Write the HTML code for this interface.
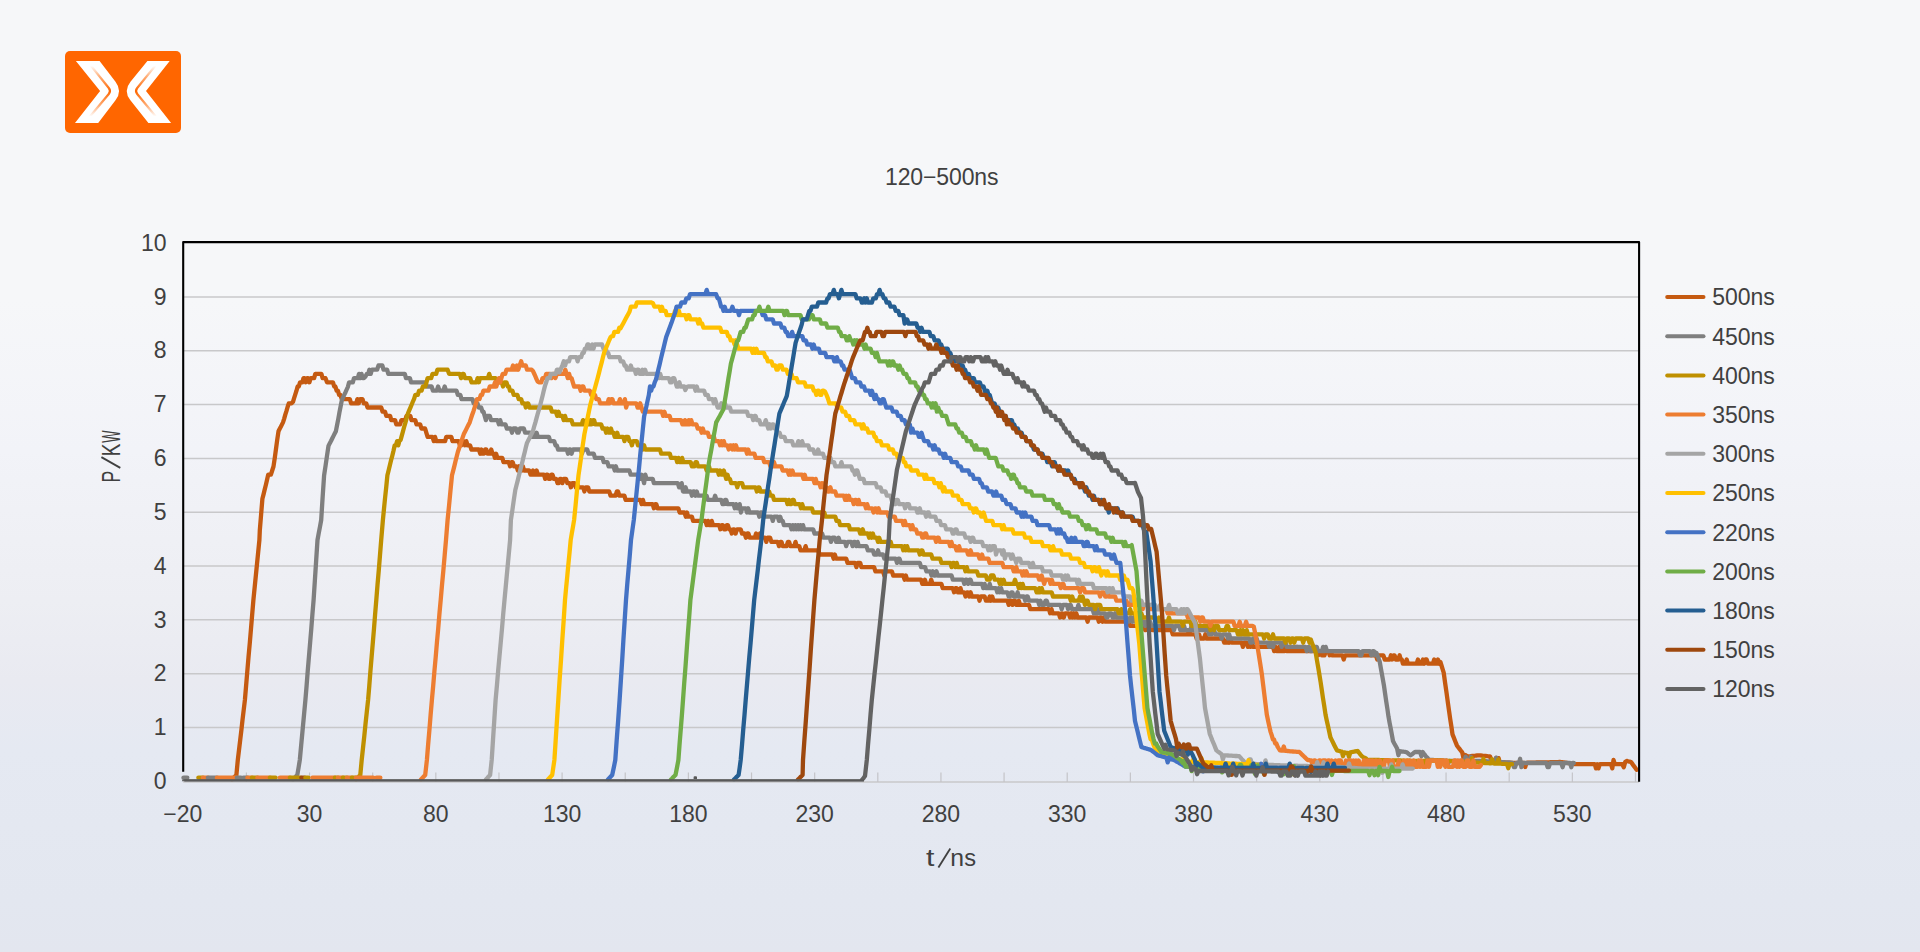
<!DOCTYPE html>
<html><head><meta charset="utf-8"><title>120-500ns</title>
<style>
html,body{margin:0;padding:0;}
body{width:1920px;height:952px;overflow:hidden;position:relative;font-family:"Liberation Sans",sans-serif;
background:linear-gradient(to bottom,#f6f7f9 0px,#f6f7f9 300px,#f2f3f8 450px,#edeef3 600px,#e9eaf1 680px,#e5e9f2 750px,#e3e7f0 900px,#e3e6ef 952px);}
</style></head><body>
<svg width="1920" height="952" viewBox="0 0 1920 952" style="position:absolute;left:0;top:0">
<defs>
<linearGradient id="lg1" x1="0" y1="0" x2="0" y2="1"><stop offset="0" stop-color="#ff6600" stop-opacity="0"/><stop offset="0.22" stop-color="#ff6600" stop-opacity="0.55"/><stop offset="0.5" stop-color="#ff6600" stop-opacity="1"/><stop offset="0.78" stop-color="#ff6600" stop-opacity="0.55"/><stop offset="1" stop-color="#ff6600" stop-opacity="0"/></linearGradient>
</defs>
<rect x="65" y="51" width="116" height="82" rx="5" ry="5" fill="#ff6600"/>
<path d="M75.9 61 L99.6 61 L115.5 81.7 Q122.6 91 115.5 100.3 L98.2 123.1 L75 123.1 L100.1 91 Z" fill="#fff"/>
<path d="M169.7 61 L147.4 61 L130.5 81.7 Q123.0 91 130.4 100.3 L148.4 123.1 L171.1 123.1 L146 91 Z" fill="#fff"/>
<path d="M91 65.8 L108.8 88 Q111.2 91 108.8 94 L90 116.5" fill="none" stroke="url(#lg1)" stroke-width="2.2" stroke-linejoin="round"/>
<path d="M155.2 65.8 L137.2 88 Q134.8 91 137.2 94 L155.7 116.5" fill="none" stroke="url(#lg1)" stroke-width="2.2" stroke-linejoin="round"/>
<line x1="183.2" y1="782.00" x2="1639.1" y2="782.00" stroke="#c8c8ca" stroke-width="1.5"/>
<line x1="183.2" y1="727.48" x2="1639.1" y2="727.48" stroke="#c8c8ca" stroke-width="1.5"/>
<line x1="183.2" y1="673.66" x2="1639.1" y2="673.66" stroke="#c8c8ca" stroke-width="1.5"/>
<line x1="183.2" y1="619.84" x2="1639.1" y2="619.84" stroke="#c8c8ca" stroke-width="1.5"/>
<line x1="183.2" y1="566.02" x2="1639.1" y2="566.02" stroke="#c8c8ca" stroke-width="1.5"/>
<line x1="183.2" y1="512.20" x2="1639.1" y2="512.20" stroke="#c8c8ca" stroke-width="1.5"/>
<line x1="183.2" y1="458.38" x2="1639.1" y2="458.38" stroke="#c8c8ca" stroke-width="1.5"/>
<line x1="183.2" y1="404.56" x2="1639.1" y2="404.56" stroke="#c8c8ca" stroke-width="1.5"/>
<line x1="183.2" y1="350.74" x2="1639.1" y2="350.74" stroke="#c8c8ca" stroke-width="1.5"/>
<line x1="183.2" y1="296.92" x2="1639.1" y2="296.92" stroke="#c8c8ca" stroke-width="1.5"/>
<line x1="246.40" y1="772.5" x2="246.40" y2="782.0" stroke="#c4c4c8" stroke-width="1.2"/>
<line x1="309.54" y1="772.5" x2="309.54" y2="782.0" stroke="#c4c4c8" stroke-width="1.2"/>
<line x1="372.68" y1="772.5" x2="372.68" y2="782.0" stroke="#c4c4c8" stroke-width="1.2"/>
<line x1="435.82" y1="772.5" x2="435.82" y2="782.0" stroke="#c4c4c8" stroke-width="1.2"/>
<line x1="498.96" y1="772.5" x2="498.96" y2="782.0" stroke="#c4c4c8" stroke-width="1.2"/>
<line x1="562.10" y1="772.5" x2="562.10" y2="782.0" stroke="#c4c4c8" stroke-width="1.2"/>
<line x1="625.24" y1="772.5" x2="625.24" y2="782.0" stroke="#c4c4c8" stroke-width="1.2"/>
<line x1="688.38" y1="772.5" x2="688.38" y2="782.0" stroke="#c4c4c8" stroke-width="1.2"/>
<line x1="751.52" y1="772.5" x2="751.52" y2="782.0" stroke="#c4c4c8" stroke-width="1.2"/>
<line x1="814.66" y1="772.5" x2="814.66" y2="782.0" stroke="#c4c4c8" stroke-width="1.2"/>
<line x1="877.80" y1="772.5" x2="877.80" y2="782.0" stroke="#c4c4c8" stroke-width="1.2"/>
<line x1="940.94" y1="772.5" x2="940.94" y2="782.0" stroke="#c4c4c8" stroke-width="1.2"/>
<line x1="1004.08" y1="772.5" x2="1004.08" y2="782.0" stroke="#c4c4c8" stroke-width="1.2"/>
<line x1="1067.22" y1="772.5" x2="1067.22" y2="782.0" stroke="#c4c4c8" stroke-width="1.2"/>
<line x1="1130.36" y1="772.5" x2="1130.36" y2="782.0" stroke="#c4c4c8" stroke-width="1.2"/>
<line x1="1193.50" y1="772.5" x2="1193.50" y2="782.0" stroke="#c4c4c8" stroke-width="1.2"/>
<line x1="1256.64" y1="772.5" x2="1256.64" y2="782.0" stroke="#c4c4c8" stroke-width="1.2"/>
<line x1="1319.78" y1="772.5" x2="1319.78" y2="782.0" stroke="#c4c4c8" stroke-width="1.2"/>
<line x1="1382.92" y1="772.5" x2="1382.92" y2="782.0" stroke="#c4c4c8" stroke-width="1.2"/>
<line x1="1446.06" y1="772.5" x2="1446.06" y2="782.0" stroke="#c4c4c8" stroke-width="1.2"/>
<line x1="1509.20" y1="772.5" x2="1509.20" y2="782.0" stroke="#c4c4c8" stroke-width="1.2"/>
<line x1="1572.34" y1="772.5" x2="1572.34" y2="782.0" stroke="#c4c4c8" stroke-width="1.2"/>
<line x1="1635.48" y1="772.5" x2="1635.48" y2="782.0" stroke="#c4c4c8" stroke-width="1.2"/>
<clipPath id="pc"><rect x="170" y="230" width="1480" height="551.3"/></clipPath>
<g fill="none" stroke-width="4.3" stroke-linejoin="round" stroke-linecap="round" clip-path="url(#pc)">
<path d="M232.0 779.5 L233.5 778.0 L234.9 776.5 L236.4 775.0 L237.8 760.0 L239.0 750.0 L240.2 740.0 L241.4 730.0 L242.5 720.0 L243.7 710.0 L244.9 700.0 L246.1 685.7 L247.3 671.4 L248.5 657.1 L249.8 642.9 L251.0 628.6 L252.2 614.3 L253.4 600.0 L254.6 588.0 L255.8 576.0 L257.0 564.0 L258.2 552.0 L259.4 540.0 L259.8 530.5 L261.1 514.6 L262.4 498.8 L263.6 494.1 L264.7 489.4 L265.9 484.7 L267.0 480.0 L268.2 474.7 L270.9 474.7 L272.2 470.5 L273.5 466.5 L274.8 457.7 L276.0 448.9 L277.2 440.0 L278.5 431.2 L279.6 429.0 L280.8 426.8 L281.9 424.6 L283.0 422.4 L284.2 418.6 L285.3 414.7 L286.5 410.9 L287.6 407.0 L288.8 403.3 L291.6 403.3 L293.0 401.8 L294.1 398.1 L295.3 394.4 L296.5 390.7 L297.6 386.5 L298.8 386.5 L300.0 382.3 L302.3 382.3 L303.5 378.1 L304.7 378.1 L305.9 382.3 L307.0 378.1 L308.2 378.1 L309.4 382.3 L310.6 378.1 L314.1 378.1 L315.3 373.9 L321.4 373.9 L322.6 378.1 L325.5 378.1 L327.0 382.3 L333.0 382.3 L334.2 386.5 L335.4 386.5 L336.6 390.7 L337.9 390.7 L339.1 394.9 L340.3 394.9 L341.8 399.1 L349.8 399.1 L351.1 403.3 L356.2 403.3 L357.4 399.1 L358.7 403.3 L360.0 399.1 L362.5 399.1 L363.8 403.3 L366.3 403.3 L367.5 407.5 L381.3 407.5 L382.5 411.7 L385.0 411.7 L386.3 415.9 L390.1 415.9 L391.3 420.1 L395.1 420.1 L396.3 424.3 L400.1 424.3 L401.4 420.1 L405.2 420.1 L406.5 415.9 L410.3 415.9 L411.5 420.1 L415.3 420.1 L416.5 424.3 L420.2 424.3 L421.4 428.5 L425.1 428.5 L426.3 432.7 L427.6 436.9 L432.5 436.9 L433.8 441.1 L435.0 436.9 L436.3 441.1 L445.1 441.1 L446.3 436.9 L451.3 436.9 L452.5 441.1 L458.7 441.1 L459.9 445.3 L461.2 445.3 L462.4 441.1 L463.7 441.1 L465.0 445.3 L466.3 441.1 L467.6 445.3 L470.1 445.3 L471.4 449.5 L478.9 449.5 L480.2 453.7 L481.4 449.5 L482.6 453.7 L483.9 453.7 L485.1 449.5 L486.3 449.5 L487.6 453.7 L490.0 453.7 L491.2 449.5 L492.5 453.7 L493.7 453.7 L494.9 457.9 L496.1 453.7 L497.4 457.9 L502.3 457.9 L503.5 462.1 L508.7 462.1 L510.1 466.3 L511.4 462.1 L512.7 462.1 L514.0 466.3 L516.6 466.3 L517.8 470.5 L519.1 466.3 L520.4 470.5 L521.6 470.5 L522.9 466.3 L524.1 470.5 L529.2 470.5 L530.5 474.7 L531.7 474.7 L533.0 470.5 L534.2 474.7 L535.4 474.7 L536.6 470.5 L537.9 474.7 L544.0 474.7 L545.2 478.9 L546.4 474.7 L547.6 474.7 L548.8 478.9 L550.1 478.9 L551.3 474.7 L552.5 474.7 L553.8 478.9 L556.2 478.9 L557.5 483.1 L558.7 483.1 L559.9 478.9 L561.2 478.9 L562.4 483.1 L563.6 478.9 L566.0 478.9 L567.3 483.1 L569.7 483.1 L570.9 487.3 L572.1 483.1 L574.6 483.1 L575.8 487.3 L577.0 483.1 L578.2 487.3 L583.2 487.3 L584.4 491.5 L585.6 487.3 L588.1 487.3 L589.3 491.5 L609.3 491.5 L610.5 495.7 L615.6 495.7 L616.8 491.5 L618.1 491.5 L619.3 495.7 L624.4 495.7 L625.6 499.9 L640.4 499.9 L641.6 504.1 L642.9 499.9 L644.1 504.1 L652.7 504.1 L653.9 508.3 L655.1 504.1 L656.3 504.1 L657.6 508.3 L678.4 508.3 L679.6 512.5 L684.5 512.5 L685.8 516.7 L687.0 512.5 L688.2 516.7 L691.9 516.7 L693.1 520.9 L705.5 520.9 L706.7 525.1 L708.0 520.9 L709.2 525.1 L710.5 525.1 L711.7 520.9 L713.0 525.1 L719.2 525.1 L720.4 529.3 L721.7 525.1 L722.9 525.1 L724.2 529.3 L725.4 529.3 L726.7 525.1 L727.9 525.1 L729.2 529.3 L730.5 529.3 L731.8 533.5 L733.0 529.3 L734.3 529.3 L735.6 533.5 L736.9 529.3 L740.7 529.3 L742.0 533.5 L744.6 533.5 L745.9 537.7 L747.2 533.5 L748.4 533.5 L749.7 537.7 L754.8 537.7 L756.1 533.5 L757.4 537.7 L758.7 537.7 L759.9 533.5 L761.2 537.7 L765.0 537.7 L766.3 541.9 L767.5 537.7 L770.1 537.7 L771.4 541.9 L777.7 541.9 L779.0 546.1 L780.3 541.9 L781.5 541.9 L782.8 546.1 L786.6 546.1 L787.9 541.9 L789.1 541.9 L790.4 546.1 L794.2 546.1 L795.5 541.9 L796.7 546.1 L799.3 546.1 L800.5 550.3 L804.3 550.3 L805.6 546.1 L806.9 550.3 L818.3 550.3 L819.6 554.5 L832.3 554.5 L833.6 558.7 L834.8 554.5 L836.1 558.7 L846.2 558.7 L847.5 562.9 L855.1 562.9 L856.4 567.1 L857.6 562.9 L860.2 562.9 L861.4 567.1 L874.1 567.1 L875.4 571.3 L883.0 571.3 L884.3 575.5 L885.6 571.3 L891.9 571.3 L893.2 575.5 L903.3 575.5 L904.6 579.7 L905.9 575.5 L907.1 579.7 L921.1 579.7 L922.3 583.9 L923.6 583.9 L924.9 579.7 L926.2 583.9 L930.0 583.9 L931.2 579.7 L932.5 583.9 L941.4 583.9 L942.7 588.1 L952.8 588.1 L954.1 592.3 L955.4 588.1 L956.7 588.1 L957.9 592.3 L959.2 592.3 L960.5 588.1 L961.7 592.3 L964.3 592.3 L965.5 596.5 L966.8 592.3 L968.1 592.3 L969.4 596.5 L970.6 592.3 L971.9 596.5 L978.3 596.5 L979.5 600.7 L980.8 596.5 L984.6 596.5 L985.9 600.7 L988.4 600.7 L989.7 596.5 L990.9 600.7 L992.2 596.5 L993.5 600.7 L1007.4 600.7 L1008.7 604.9 L1009.9 600.7 L1011.2 600.7 L1012.5 604.9 L1013.7 600.7 L1015.0 600.7 L1016.3 604.9 L1017.6 604.9 L1018.8 600.7 L1020.1 604.9 L1029.0 604.9 L1030.3 609.1 L1049.0 609.1 L1050.2 613.3 L1051.5 609.1 L1052.7 613.3 L1058.8 613.3 L1060.0 617.5 L1061.3 613.3 L1062.5 613.3 L1063.8 617.5 L1065.0 613.3 L1068.8 613.3 L1070.0 617.5 L1071.3 613.3 L1072.5 617.5 L1073.8 613.3 L1075.0 617.5 L1076.3 613.3 L1077.6 617.5 L1086.3 617.5 L1087.6 621.7 L1088.8 617.5 L1097.6 617.5 L1098.8 621.7 L1100.1 617.5 L1101.3 617.5 L1102.6 621.7 L1103.8 617.5 L1105.1 621.7 L1128.9 621.7 L1130.1 625.9 L1143.9 625.9 L1145.2 630.1 L1146.4 625.9 L1147.7 630.1 L1148.9 625.9 L1150.2 630.1 L1151.4 625.9 L1152.7 630.1 L1171.5 630.1 L1172.7 634.3 L1187.8 634.3 L1189.0 630.1 L1190.3 634.3 L1195.3 634.3 L1196.6 638.5 L1197.8 634.3 L1199.1 634.3 L1200.3 638.5 L1204.1 638.5 L1205.3 634.3 L1206.6 638.5 L1222.9 638.5 L1224.2 642.7 L1226.7 642.7 L1227.9 638.5 L1229.2 642.7 L1230.4 638.5 L1231.7 642.7 L1241.7 642.7 L1242.9 646.9 L1244.2 642.7 L1246.7 642.7 L1247.9 646.9 L1249.2 642.7 L1250.4 646.9 L1251.7 642.7 L1252.9 646.9 L1273.0 646.9 L1274.2 651.1 L1275.5 646.9 L1276.7 651.1 L1278.0 651.1 L1279.2 646.9 L1280.5 651.1 L1281.7 651.1 L1283.0 646.9 L1284.2 651.1 L1285.5 646.9 L1286.7 651.1 L1295.5 651.1 L1296.8 646.9 L1298.0 651.1 L1316.8 651.1 L1318.1 655.3 L1319.3 651.1 L1320.6 651.1 L1321.9 655.3 L1324.5 655.3 L1325.8 651.1 L1328.4 651.1 L1329.7 655.3 L1330.9 651.1 L1332.2 655.3 L1342.5 655.3 L1343.7 659.5 L1345.0 655.3 L1376.0 655.3 L1377.2 659.5 L1378.5 655.3 L1383.4 655.3 L1384.7 659.5 L1389.7 659.5 L1390.9 655.3 L1392.1 659.5 L1393.4 655.3 L1394.6 655.3 L1395.9 659.5 L1398.4 659.5 L1399.6 655.3 L1400.7 659.5 L1401.8 659.5 L1402.9 663.7 L1405.4 663.7 L1406.7 659.5 L1407.9 663.7 L1416.7 663.7 L1417.9 659.5 L1419.2 663.7 L1421.7 663.7 L1422.9 659.5 L1424.2 663.7 L1425.4 659.5 L1426.7 659.5 L1427.9 663.7 L1432.9 663.7 L1434.2 659.5 L1435.4 663.7 L1436.7 663.7 L1437.9 659.5 L1439.2 663.7 L1440.4 662.0 L1441.5 665.5 L1442.6 669.1 L1443.7 672.6 L1445.1 682.9 L1446.6 693.2 L1448.0 703.5 L1449.1 711.2 L1450.2 719.0 L1451.4 726.7 L1452.5 734.4 L1454.0 738.1 L1455.4 741.7 L1456.9 745.4 L1458.2 747.2 L1459.5 748.9 L1460.9 750.7 L1462.2 752.4 L1463.5 758.4 L1465.0 754.9 L1466.4 755.7 L1467.9 756.4 L1469.1 756.3 L1470.3 756.2 L1471.6 756.0 L1472.8 755.9 L1474.0 755.8 L1475.2 755.7 L1476.5 755.5 L1477.7 755.4 L1478.9 755.3 L1480.1 755.4 L1481.4 755.5 L1482.6 755.7 L1483.8 755.8 L1485.1 755.9 L1486.3 756.0 L1487.5 756.2 L1488.8 756.3 L1490.0 756.4 L1491.1 759.2 L1492.2 762.0 L1493.5 762.1 L1494.7 762.1 L1496.0 758.0 L1497.3 762.2 L1498.6 758.1 L1499.8 762.3 L1501.1 762.4 L1502.4 762.4 L1503.7 762.5 L1504.9 762.5 L1506.2 762.6 L1507.5 762.6 L1508.8 762.7 L1510.0 762.7 L1511.3 762.8 L1512.6 762.8 L1513.9 762.9 L1515.1 762.9 L1516.4 763.0 L1517.7 763.0 L1518.9 762.9 L1520.2 762.9 L1521.5 762.9 L1522.7 762.9 L1524.0 762.8 L1525.2 767.0 L1526.5 762.8 L1527.8 762.7 L1529.0 762.7 L1530.3 762.7 L1531.6 762.7 L1532.8 762.6 L1534.1 762.6 L1535.3 762.6 L1536.6 762.5 L1537.9 762.5 L1539.1 762.5 L1540.4 762.5 L1541.7 762.4 L1542.9 762.4 L1544.2 762.4 L1545.4 762.3 L1546.7 762.3 L1548.0 762.3 L1549.2 762.3 L1550.5 762.2 L1551.8 762.2 L1553.0 762.2 L1554.3 762.1 L1555.5 762.1 L1556.8 762.1 L1558.1 762.1 L1559.3 762.0 L1560.6 762.0 L1561.9 762.2 L1563.2 762.4 L1564.4 762.5 L1565.7 762.7 L1567.0 762.9 L1568.3 763.1 L1569.6 763.3 L1570.9 763.5 L1572.2 763.7 L1573.4 763.8 L1574.7 764.0 L1576.0 764.2 L1594.8 764.2 L1596.0 768.4 L1597.3 764.2 L1598.5 768.4 L1599.8 764.2 L1611.0 764.2 L1612.3 768.4 L1613.5 760.0 L1614.8 764.2 L1622.3 764.2 L1623.8 767.3 L1625.2 762.0 L1626.7 760.9 L1628.1 761.3 L1629.6 761.6 L1631.0 762.0 L1632.4 763.9 L1633.8 765.9 L1635.2 767.8 L1636.6 769.7" stroke="#C55A11"/>
<path d="M293.0 779.5 L294.4 778.0 L295.9 776.5 L297.3 775.0 L298.6 767.5 L299.8 760.0 L301.2 745.0 L302.6 730.0 L304.0 715.0 L305.4 700.0 L306.6 685.7 L307.7 671.4 L308.9 657.1 L310.1 642.9 L311.3 628.6 L312.4 614.3 L313.6 600.0 L314.9 580.0 L316.2 560.0 L317.5 540.0 L318.7 533.3 L320.0 526.7 L321.2 520.0 L322.6 497.6 L324.1 475.3 L325.6 465.5 L327.0 455.7 L328.5 445.9 L329.7 443.4 L331.0 441.0 L332.2 438.5 L333.4 436.1 L334.7 433.6 L335.9 431.2 L337.1 425.0 L338.3 418.8 L339.4 412.7 L340.6 406.5 L341.8 400.3 L343.0 397.6 L344.2 394.9 L345.5 392.2 L346.7 389.5 L347.9 386.8 L349.1 382.3 L352.8 382.3 L354.0 378.1 L357.8 378.1 L359.0 373.9 L360.3 378.1 L361.5 373.9 L362.8 378.1 L364.0 378.1 L365.3 376.8 L366.8 373.9 L368.2 373.9 L369.4 369.7 L370.7 373.9 L371.9 369.7 L377.1 369.7 L378.5 365.5 L382.4 365.5 L383.5 369.7 L387.1 369.7 L388.3 373.9 L404.8 373.9 L406.0 378.1 L409.9 378.1 L411.1 382.3 L425.4 382.3 L426.6 386.5 L431.6 386.5 L432.9 390.7 L436.8 390.7 L438.1 386.5 L439.5 390.7 L443.4 390.7 L444.7 386.5 L446.0 390.7 L456.5 390.7 L457.8 394.9 L460.3 394.9 L461.5 399.1 L472.5 399.1 L473.7 403.3 L477.5 403.3 L478.7 407.5 L481.2 407.5 L482.4 411.7 L483.5 411.7 L484.7 415.9 L485.9 420.1 L487.2 415.9 L489.8 415.9 L491.1 420.1 L497.6 420.1 L498.9 424.3 L500.2 420.1 L501.5 424.3 L505.5 424.3 L506.8 428.5 L510.7 428.5 L512.0 432.7 L513.3 428.5 L516.0 428.5 L517.3 432.7 L518.6 432.7 L519.9 428.5 L523.8 428.5 L525.1 432.7 L530.3 432.7 L531.6 436.9 L532.9 436.9 L534.1 432.7 L535.4 436.9 L536.6 432.7 L537.8 436.9 L548.9 436.9 L550.2 441.1 L554.2 441.1 L555.5 445.3 L556.8 445.3 L558.1 449.5 L566.8 449.5 L568.0 453.7 L569.2 449.5 L570.4 449.5 L571.6 453.7 L572.9 449.5 L580.7 449.5 L582.0 453.7 L583.3 449.5 L587.2 449.5 L588.5 453.7 L593.7 453.7 L595.0 457.9 L602.5 457.9 L603.7 462.1 L607.4 462.1 L608.6 466.3 L613.5 466.3 L614.7 470.5 L615.9 466.3 L617.2 470.5 L629.4 470.5 L630.6 474.7 L639.2 474.7 L640.4 478.9 L641.6 474.7 L642.9 478.9 L644.1 483.1 L645.3 474.7 L646.5 478.9 L652.7 478.9 L653.9 483.1 L677.8 483.1 L679.1 487.3 L680.4 487.3 L681.7 483.1 L683.0 491.5 L684.3 491.5 L685.6 487.3 L686.9 491.5 L690.7 491.5 L691.9 495.7 L693.1 491.5 L694.3 491.5 L695.5 495.7 L696.8 491.5 L698.0 495.7 L706.6 495.7 L707.8 499.9 L713.9 499.9 L715.1 495.7 L716.4 499.9 L721.3 499.9 L722.5 504.1 L723.8 504.1 L725.0 499.9 L726.2 499.9 L727.5 504.1 L733.6 504.1 L734.8 508.3 L736.0 504.1 L737.3 508.3 L738.5 508.3 L739.7 504.1 L740.9 512.5 L742.1 508.3 L745.8 508.3 L747.0 512.5 L748.2 508.3 L749.5 512.5 L758.1 512.5 L759.3 516.7 L760.6 512.5 L761.8 512.5 L763.0 516.7 L771.6 516.7 L772.8 520.9 L774.0 516.7 L777.7 516.7 L779.0 520.9 L780.2 516.7 L781.5 520.9 L782.7 520.9 L783.9 525.1 L790.2 525.1 L791.5 529.3 L792.7 525.1 L794.0 529.3 L795.3 525.1 L796.6 529.3 L797.9 525.1 L799.1 529.3 L800.4 525.1 L801.7 529.3 L803.0 525.1 L804.2 529.3 L813.2 529.3 L814.5 533.5 L822.1 533.5 L823.4 537.7 L829.8 537.7 L831.0 541.9 L832.3 537.7 L834.8 537.7 L836.1 541.9 L837.4 541.9 L838.6 537.7 L839.9 541.9 L845.0 541.9 L846.2 546.1 L847.5 541.9 L851.3 541.9 L852.6 546.1 L853.8 541.9 L855.1 541.9 L856.4 546.1 L857.6 541.9 L858.9 546.1 L866.5 546.1 L867.8 550.3 L872.9 550.3 L874.1 554.5 L876.7 554.5 L878.0 550.3 L879.2 554.5 L883.0 554.5 L884.3 558.7 L895.7 558.7 L897.0 562.9 L898.3 558.7 L899.5 558.7 L900.8 562.9 L919.8 562.9 L921.1 567.1 L925.1 567.1 L926.4 571.3 L930.3 571.3 L931.5 575.5 L932.8 571.3 L934.0 575.5 L935.3 575.5 L936.5 571.3 L937.8 575.5 L951.6 575.5 L952.8 579.7 L963.0 579.7 L964.3 583.9 L965.5 579.7 L966.8 579.7 L968.1 583.9 L969.4 579.7 L970.6 579.7 L971.9 583.9 L982.1 583.9 L983.3 588.1 L984.6 583.9 L985.9 588.1 L988.4 588.1 L989.7 583.9 L990.9 588.1 L996.0 588.1 L997.3 592.3 L998.5 588.1 L999.8 592.3 L1001.1 588.1 L1002.3 592.3 L1007.4 592.3 L1008.7 596.5 L1009.9 596.5 L1011.2 592.3 L1012.5 592.3 L1013.7 596.5 L1016.3 596.5 L1017.6 592.3 L1018.8 596.5 L1023.9 596.5 L1025.2 600.7 L1026.5 596.5 L1027.7 596.5 L1029.0 600.7 L1037.9 600.7 L1039.2 604.9 L1040.4 600.7 L1041.7 604.9 L1044.2 604.9 L1045.5 600.7 L1046.7 600.7 L1048.0 604.9 L1060.5 604.9 L1061.7 609.1 L1063.0 604.9 L1066.9 604.9 L1068.1 609.1 L1069.4 604.9 L1070.7 604.9 L1072.0 609.1 L1077.2 609.1 L1078.4 604.9 L1079.7 609.1 L1092.6 609.1 L1093.8 613.3 L1095.1 609.1 L1096.3 613.3 L1097.6 609.1 L1098.8 613.3 L1105.1 613.3 L1106.3 617.5 L1107.6 617.5 L1108.8 613.3 L1111.3 613.3 L1112.6 617.5 L1113.8 617.5 L1115.1 613.3 L1116.3 617.5 L1126.4 617.5 L1127.6 621.7 L1128.9 621.7 L1130.1 617.5 L1131.4 617.5 L1132.6 621.7 L1133.9 617.5 L1135.1 621.7 L1138.9 621.7 L1140.1 617.5 L1141.4 621.7 L1143.9 621.7 L1145.2 625.9 L1146.4 621.7 L1147.7 621.7 L1148.9 625.9 L1150.2 621.7 L1151.4 625.9 L1172.7 625.9 L1174.0 630.1 L1175.3 625.9 L1179.0 625.9 L1180.3 630.1 L1182.8 630.1 L1184.0 625.9 L1185.3 630.1 L1190.3 630.1 L1191.6 625.9 L1192.8 630.1 L1194.1 630.1 L1195.3 625.9 L1196.6 630.1 L1207.9 630.1 L1209.1 634.3 L1210.4 630.1 L1211.6 634.3 L1212.9 630.1 L1214.1 630.1 L1215.4 634.3 L1220.4 634.3 L1221.6 638.5 L1222.9 634.3 L1226.7 634.3 L1227.9 638.5 L1229.2 634.3 L1230.4 638.5 L1249.2 638.5 L1250.4 642.7 L1251.7 642.7 L1252.9 638.5 L1254.2 638.5 L1255.4 642.7 L1256.7 638.5 L1257.9 642.7 L1267.9 642.7 L1269.2 646.9 L1270.4 642.7 L1271.7 642.7 L1273.0 646.9 L1274.2 642.7 L1280.5 642.7 L1281.7 646.9 L1283.0 642.7 L1285.5 642.7 L1286.7 646.9 L1305.6 646.9 L1306.8 651.1 L1308.1 646.9 L1309.3 646.9 L1310.6 651.1 L1311.8 651.1 L1313.1 646.9 L1316.8 646.9 L1318.1 651.1 L1321.9 651.1 L1323.1 646.9 L1324.4 651.1 L1325.7 646.9 L1327.0 651.1 L1358.7 651.1 L1360.0 655.3 L1361.3 655.3 L1362.5 651.1 L1370.1 651.1 L1371.4 655.3 L1372.6 651.1 L1373.9 651.1 L1375.1 655.3 L1376.4 652.8 L1377.5 655.7 L1378.6 658.7 L1379.7 661.6 L1381.1 669.7 L1382.6 677.8 L1384.0 685.9 L1385.1 693.6 L1386.2 701.3 L1387.4 709.0 L1388.5 716.7 L1389.6 722.8 L1390.8 728.9 L1391.9 734.9 L1393.0 741.0 L1394.3 743.5 L1395.7 746.0 L1397.1 748.5 L1398.4 755.2 L1399.7 751.2 L1401.0 751.3 L1402.3 751.5 L1403.6 751.7 L1404.9 751.8 L1406.2 752.0 L1407.7 753.1 L1409.1 754.2 L1410.6 755.3 L1412.1 754.2 L1413.5 753.1 L1415.0 752.0 L1420.1 752.0 L1421.4 756.2 L1422.7 752.0 L1423.8 753.5 L1424.9 754.9 L1426.0 756.4 L1427.1 757.5 L1428.2 758.7 L1429.3 759.8 L1430.5 759.9 L1431.8 759.9 L1433.0 760.0 L1434.2 760.1 L1435.5 760.1 L1436.7 760.2 L1437.9 760.3 L1439.2 760.3 L1440.4 760.4 L1441.7 760.4 L1442.9 760.5 L1444.1 760.6 L1445.4 760.6 L1446.6 760.7 L1447.8 765.0 L1449.1 760.8 L1450.3 760.9 L1464.4 760.9 L1465.7 756.7 L1466.9 760.9 L1469.5 760.9 L1470.8 756.7 L1472.0 760.9 L1481.0 760.9 L1482.3 761.0 L1483.5 761.0 L1484.8 761.1 L1486.1 761.2 L1487.3 761.3 L1488.6 761.4 L1489.8 761.4 L1491.1 761.5 L1492.4 761.6 L1493.6 761.6 L1494.9 761.7 L1496.2 757.6 L1497.4 761.9 L1498.7 762.0 L1500.0 762.0 L1501.2 762.1 L1502.5 762.2 L1503.8 762.2 L1505.0 762.3 L1506.3 762.4 L1507.6 762.5 L1508.8 762.5 L1510.1 762.6 L1511.3 762.7 L1512.6 762.8 L1513.9 767.1 L1515.1 767.1 L1516.4 763.0 L1518.9 763.0 L1520.1 758.8 L1521.4 767.2 L1522.6 763.0 L1546.3 763.0 L1547.6 767.2 L1548.8 767.2 L1550.1 763.0 L1561.3 763.0 L1562.6 767.2 L1563.8 763.0 L1570.1 763.0 L1571.3 767.2 L1572.6 763.0 L1573.8 763.0" stroke="#7F7F7F"/>
<path d="M356.0 779.5 L357.4 778.0 L358.9 776.5 L360.3 775.0 L361.7 760.0 L363.0 748.0 L364.3 736.0 L365.5 724.0 L366.8 712.0 L368.1 700.0 L369.3 685.7 L370.4 671.4 L371.6 657.1 L372.8 642.9 L374.0 628.6 L375.1 614.3 L376.3 600.0 L377.5 585.0 L378.8 570.0 L380.0 555.0 L381.2 540.0 L382.9 520.0 L384.0 508.8 L385.1 497.6 L386.3 486.5 L387.4 475.3 L388.6 470.4 L389.8 465.5 L391.0 460.6 L392.3 455.7 L393.5 450.8 L394.7 445.3 L395.9 445.3 L397.1 441.1 L398.2 445.3 L399.4 441.1 L400.6 440.0 L401.8 435.6 L403.0 431.2 L404.2 426.8 L405.5 422.3 L406.7 417.9 L407.9 413.5 L409.1 410.6 L410.4 407.6 L411.6 404.7 L412.8 401.8 L414.1 398.8 L415.3 394.9 L417.8 394.9 L419.1 390.7 L421.6 390.7 L422.8 386.5 L425.3 386.5 L426.5 382.3 L427.6 378.1 L431.2 378.1 L432.5 373.9 L436.2 373.9 L437.4 369.7 L447.6 369.7 L449.1 373.9 L459.8 373.9 L461.1 378.1 L462.4 373.9 L463.7 373.9 L465.0 378.1 L470.2 378.1 L471.5 382.3 L476.5 382.3 L477.6 378.1 L478.8 382.3 L480.0 378.1 L487.9 378.1 L489.2 373.9 L490.5 378.1 L495.6 378.1 L496.8 382.3 L501.8 382.3 L503.0 386.5 L504.1 382.3 L506.5 382.3 L507.7 386.5 L508.9 386.5 L510.0 390.7 L512.4 390.7 L513.7 394.9 L517.4 394.9 L518.7 399.1 L521.2 399.1 L522.4 403.3 L524.7 403.3 L525.8 407.5 L527.0 403.3 L528.2 403.3 L529.5 407.5 L550.6 407.5 L551.9 411.7 L555.8 411.7 L557.2 415.9 L558.5 411.7 L559.8 415.9 L562.4 415.9 L563.7 420.1 L565.0 415.9 L566.3 420.1 L571.5 420.1 L572.8 424.3 L581.7 424.3 L583.0 420.1 L584.2 424.3 L585.5 424.3 L586.7 420.1 L588.0 424.3 L589.3 424.3 L590.5 420.1 L591.8 424.3 L593.0 420.1 L594.1 420.1 L595.3 424.3 L601.2 424.3 L602.5 428.5 L604.9 428.5 L606.1 432.7 L607.4 428.5 L608.6 432.7 L609.8 432.7 L611.0 428.5 L612.2 432.7 L613.5 432.7 L614.7 436.9 L615.9 436.9 L617.2 432.7 L618.4 436.9 L623.3 436.9 L624.5 441.1 L625.7 436.9 L628.2 436.9 L629.4 441.1 L630.6 441.1 L631.9 445.3 L633.1 441.1 L636.8 441.1 L638.0 445.3 L641.6 445.3 L642.9 449.5 L644.1 445.3 L645.3 449.5 L660.0 449.5 L661.2 453.7 L669.8 453.7 L671.0 457.9 L676.0 457.9 L677.2 462.1 L678.4 457.9 L679.6 462.1 L680.9 462.1 L682.1 457.9 L683.3 462.1 L690.7 462.1 L691.9 466.3 L694.3 466.3 L695.5 462.1 L696.8 462.1 L698.0 466.3 L705.4 466.3 L706.6 470.5 L707.8 466.3 L709.0 466.3 L710.2 470.5 L717.6 470.5 L718.8 474.7 L720.1 470.5 L721.3 474.7 L722.5 474.7 L723.8 470.5 L725.0 474.7 L726.2 478.9 L727.5 474.7 L728.7 478.9 L729.9 478.9 L731.2 483.1 L736.0 483.1 L737.3 487.3 L738.5 483.1 L742.1 483.1 L743.4 487.3 L755.6 487.3 L756.9 491.5 L758.1 487.3 L759.3 487.3 L760.6 491.5 L766.7 491.5 L767.9 495.7 L769.1 491.5 L770.4 495.7 L772.8 495.7 L774.0 499.9 L786.3 499.9 L787.5 504.1 L788.8 499.9 L790.0 504.1 L791.2 504.1 L792.4 499.9 L793.7 499.9 L794.9 504.1 L799.8 504.1 L801.0 508.3 L802.2 504.1 L803.5 508.3 L812.0 508.3 L813.2 512.5 L821.8 512.5 L823.0 516.7 L824.3 512.5 L825.5 516.7 L835.3 516.7 L836.5 520.9 L838.9 520.9 L840.1 525.1 L848.8 525.1 L850.0 529.3 L858.9 529.3 L860.2 533.5 L861.4 533.5 L862.7 529.3 L864.0 533.5 L867.8 533.5 L869.1 537.7 L870.3 533.5 L871.6 537.7 L872.9 533.5 L874.1 537.7 L876.7 537.7 L878.0 541.9 L879.2 537.7 L880.5 541.9 L888.1 541.9 L889.4 546.1 L890.7 541.9 L891.9 546.1 L902.1 546.1 L903.3 550.3 L904.6 546.1 L905.9 550.3 L907.1 546.1 L908.4 550.3 L918.5 550.3 L919.8 554.5 L921.1 550.3 L922.3 550.3 L923.6 554.5 L931.2 554.5 L932.5 558.7 L940.1 558.7 L941.4 562.9 L950.3 562.9 L951.6 567.1 L952.8 562.9 L954.1 562.9 L955.4 567.1 L956.7 562.9 L957.9 567.1 L964.3 567.1 L965.5 571.3 L966.8 567.1 L968.1 571.3 L977.0 571.3 L978.3 575.5 L985.9 575.5 L987.1 579.7 L989.7 579.7 L990.9 575.5 L993.5 575.5 L994.7 579.7 L998.5 579.7 L999.8 583.9 L1001.1 579.7 L1002.3 583.9 L1003.6 579.7 L1004.9 583.9 L1013.7 583.9 L1015.0 579.7 L1016.3 583.9 L1017.6 583.9 L1018.8 588.1 L1020.1 583.9 L1021.4 588.1 L1022.6 583.9 L1023.9 588.1 L1035.3 588.1 L1036.6 592.3 L1037.9 592.3 L1039.2 588.1 L1040.4 592.3 L1041.7 588.1 L1043.0 592.3 L1051.7 592.3 L1053.0 596.5 L1069.5 596.5 L1070.8 600.7 L1072.2 596.5 L1073.5 600.7 L1078.7 600.7 L1080.0 596.5 L1081.3 600.7 L1082.5 596.5 L1083.8 600.7 L1085.0 604.9 L1086.3 600.7 L1087.6 600.7 L1088.8 604.9 L1093.8 604.9 L1095.1 609.1 L1096.3 604.9 L1100.1 604.9 L1101.3 609.1 L1117.6 609.1 L1118.8 613.3 L1120.1 613.3 L1121.3 609.1 L1122.6 613.3 L1128.9 613.3 L1130.1 609.1 L1131.4 613.3 L1135.1 613.3 L1136.4 617.5 L1137.6 613.3 L1138.9 617.5 L1140.1 617.5 L1141.4 613.3 L1142.7 617.5 L1155.2 617.5 L1156.4 621.7 L1157.7 621.7 L1159.0 617.5 L1160.2 621.7 L1167.7 621.7 L1169.0 617.5 L1170.2 621.7 L1181.5 621.7 L1182.8 625.9 L1184.0 621.7 L1190.3 621.7 L1191.6 625.9 L1194.1 625.9 L1195.3 621.7 L1196.6 625.9 L1209.1 625.9 L1210.4 630.1 L1211.6 625.9 L1212.9 625.9 L1214.1 630.1 L1215.4 625.9 L1217.9 625.9 L1219.1 630.1 L1225.4 630.1 L1226.7 625.9 L1227.9 625.9 L1229.2 630.1 L1236.7 630.1 L1237.9 634.3 L1239.2 634.3 L1240.4 630.1 L1241.7 634.3 L1242.9 630.1 L1244.2 634.3 L1245.4 634.3 L1246.7 630.1 L1247.9 634.3 L1262.9 634.3 L1264.2 638.5 L1265.4 634.3 L1267.9 634.3 L1269.2 638.5 L1271.7 638.5 L1273.0 634.3 L1274.2 638.5 L1284.2 638.5 L1285.5 642.7 L1286.7 638.5 L1289.3 638.5 L1290.5 642.7 L1291.8 638.5 L1293.1 638.5 L1294.3 642.7 L1295.6 638.5 L1301.9 638.5 L1303.2 642.7 L1304.5 638.5 L1308.3 638.5 L1309.5 642.7 L1310.8 639.6 L1312.0 642.9 L1313.2 646.1 L1314.5 649.4 L1315.7 652.6 L1316.9 660.0 L1318.2 667.3 L1319.4 674.6 L1320.6 682.0 L1321.8 690.1 L1323.0 698.2 L1324.3 706.4 L1325.5 714.5 L1326.7 720.2 L1328.0 725.9 L1329.2 731.6 L1330.4 737.3 L1331.7 739.9 L1333.0 742.5 L1334.3 745.2 L1335.6 747.8 L1336.9 750.4 L1338.1 750.7 L1339.3 751.0 L1340.5 751.4 L1341.8 751.7 L1343.0 756.2 L1344.2 752.4 L1345.4 752.7 L1346.6 753.0 L1347.8 752.8 L1349.0 756.8 L1350.3 752.3 L1351.5 752.1 L1352.7 751.9 L1353.9 751.7 L1355.2 751.4 L1356.4 751.2 L1357.6 751.0 L1359.1 752.8 L1360.5 754.6 L1362.0 756.4 L1363.3 757.1 L1364.7 757.8 L1366.0 758.4 L1367.4 763.3 L1368.7 759.8 L1370.0 759.8 L1371.3 759.9 L1372.5 759.9 L1373.8 759.9 L1375.1 759.9 L1376.4 760.0 L1377.6 760.0 L1378.9 760.0 L1380.2 760.1 L1381.5 760.1 L1382.7 760.1 L1384.0 760.1 L1385.3 760.2 L1386.6 760.2 L1387.8 760.2 L1389.1 760.3 L1390.4 760.3 L1391.7 764.5 L1393.0 760.3 L1394.2 760.4 L1395.5 760.4 L1396.8 760.4 L1398.1 760.5 L1399.3 760.5 L1400.6 760.5 L1401.9 760.6 L1403.2 760.6 L1404.4 760.6 L1405.7 760.6 L1407.0 760.7 L1408.3 760.7 L1409.5 760.7 L1410.8 760.8 L1412.1 760.8 L1413.4 760.8 L1414.6 760.8 L1415.9 760.9 L1417.2 760.9 L1418.5 760.9 L1419.8 760.8 L1421.1 760.8 L1422.4 760.8 L1423.7 760.8 L1425.0 760.7 L1426.3 764.9 L1427.6 760.7 L1428.8 760.6 L1430.1 760.6 L1431.4 760.6 L1432.7 760.5 L1434.0 760.5 L1435.3 760.5 L1436.6 760.5 L1437.9 760.4 L1439.2 760.4 L1440.5 760.5 L1441.7 760.5 L1443.0 760.6 L1444.3 764.9 L1445.5 760.8 L1446.8 760.8 L1448.0 760.9 L1449.3 761.0 L1450.6 761.1 L1451.8 761.1 L1453.1 761.2 L1454.4 761.3 L1455.6 761.4 L1456.9 761.4 L1458.1 761.5 L1459.4 761.6 L1460.7 761.7 L1461.9 761.7 L1463.2 761.8 L1464.5 761.9 L1465.7 762.0 L1467.0 762.0 L1468.2 762.1 L1469.5 762.2 L1470.8 762.3 L1472.0 758.1 L1473.3 762.4 L1474.6 762.5 L1475.8 762.6 L1477.1 762.6 L1478.3 762.7 L1479.6 762.8 L1480.9 762.9 L1482.1 762.9 L1483.4 758.8 L1484.6 763.1 L1485.9 763.1 L1487.1 763.2 L1488.4 763.2 L1489.6 763.3 L1490.9 763.3 L1492.1 759.2 L1493.3 763.4 L1494.6 763.5 L1495.8 763.5 L1497.1 763.6 L1498.3 759.4 L1499.6 763.7 L1500.8 763.7 L1502.1 763.8 L1503.3 763.8 L1504.5 763.9 L1505.8 763.9 L1507.0 764.0 L1508.3 768.2 L1509.5 764.1 L1510.8 764.1 L1512.0 764.2" stroke="#BF9000"/>
<path d="M421.0 779.5 L422.4 778.0 L423.8 776.5 L425.2 775.0 L426.9 760.0 L428.1 745.0 L429.4 730.0 L430.6 715.0 L431.9 700.0 L433.2 685.7 L434.4 671.4 L435.7 657.1 L436.9 642.9 L438.2 628.6 L439.4 614.3 L440.7 600.0 L442.0 585.0 L443.4 570.0 L444.7 555.0 L446.0 540.0 L447.6 520.0 L449.1 505.1 L450.5 490.2 L452.0 475.3 L453.2 470.6 L454.4 465.9 L455.5 461.2 L456.7 456.5 L457.9 451.8 L459.1 448.3 L460.3 444.7 L461.4 441.2 L462.6 437.6 L463.8 434.1 L465.0 431.8 L466.2 429.4 L467.3 427.1 L468.5 424.7 L469.7 422.4 L470.9 418.7 L472.1 415.0 L473.4 411.4 L474.6 407.7 L475.8 404.0 L477.0 399.1 L479.5 399.1 L480.8 394.9 L482.1 394.9 L483.4 390.7 L488.5 390.7 L489.8 386.5 L493.7 386.5 L495.0 382.3 L496.3 386.5 L497.6 382.3 L498.9 378.1 L500.1 382.3 L501.4 378.1 L502.7 373.9 L505.2 373.9 L506.5 369.7 L511.7 369.7 L513.0 365.5 L514.3 369.7 L515.6 369.7 L516.9 365.5 L518.2 369.7 L519.7 365.5 L521.2 361.3 L522.4 365.5 L525.8 365.5 L527.0 369.7 L531.7 369.7 L532.9 370.9 L534.1 373.5 L535.3 376.2 L536.4 378.8 L537.6 381.5 L538.8 382.3 L541.3 382.3 L542.5 378.1 L545.0 378.1 L546.2 373.9 L550.2 373.9 L551.5 378.1 L552.8 373.9 L554.1 373.9 L555.4 378.1 L556.8 373.9 L564.1 373.9 L565.3 369.7 L566.6 373.9 L567.8 378.1 L569.1 373.9 L570.3 378.1 L571.6 378.1 L572.8 382.3 L574.1 386.5 L579.3 386.5 L580.7 390.7 L582.0 386.5 L583.3 386.5 L584.6 390.7 L589.8 390.7 L591.1 394.9 L595.0 394.9 L596.3 399.1 L598.8 399.1 L600.1 403.3 L607.5 403.3 L608.7 399.1 L609.9 403.3 L611.2 399.1 L612.4 399.1 L613.6 403.3 L618.6 403.3 L619.9 399.1 L621.1 403.3 L623.6 403.3 L624.9 399.1 L626.1 407.5 L627.4 403.3 L636.3 403.3 L637.6 407.5 L638.9 407.5 L640.2 403.3 L641.5 407.5 L642.8 411.7 L661.8 411.7 L663.1 415.9 L664.4 411.7 L665.7 415.9 L669.6 415.9 L670.9 420.1 L681.1 420.1 L682.4 424.3 L683.6 424.3 L684.9 420.1 L686.1 424.3 L687.4 424.3 L688.7 420.1 L689.9 424.3 L691.2 420.1 L692.5 424.3 L696.4 424.3 L697.7 428.5 L700.3 428.5 L701.6 432.7 L702.9 428.5 L704.1 432.7 L707.8 432.7 L709.0 436.9 L713.9 436.9 L715.1 441.1 L718.8 441.1 L720.1 445.3 L721.3 441.1 L722.5 445.3 L723.8 441.1 L725.0 445.3 L727.5 445.3 L728.7 449.5 L729.9 445.3 L731.2 445.3 L732.4 449.5 L733.6 445.3 L734.8 449.5 L736.0 445.3 L737.3 449.5 L745.8 449.5 L747.0 453.7 L748.2 449.5 L749.5 453.7 L754.4 453.7 L755.6 457.9 L763.0 457.9 L764.2 462.1 L769.1 462.1 L770.4 466.3 L772.8 466.3 L774.0 462.1 L775.3 466.3 L781.4 466.3 L782.6 470.5 L787.5 470.5 L788.8 474.7 L790.0 470.5 L791.2 474.7 L792.4 470.5 L793.7 474.7 L802.2 474.7 L803.5 478.9 L804.7 474.7 L805.9 478.9 L813.2 478.9 L814.5 483.1 L815.7 478.9 L816.9 483.1 L819.4 483.1 L820.6 487.3 L821.8 483.1 L823.0 487.3 L824.3 483.1 L825.5 487.3 L826.7 487.3 L828.0 491.5 L829.2 491.5 L830.4 487.3 L831.6 491.5 L835.3 491.5 L836.5 495.7 L843.9 495.7 L845.1 499.9 L846.3 495.7 L847.5 499.9 L848.8 495.7 L850.0 499.9 L852.5 499.9 L853.7 504.1 L854.9 499.9 L856.1 499.9 L857.4 504.1 L858.6 499.9 L859.8 504.1 L864.7 504.1 L866.0 508.3 L867.2 504.1 L868.5 508.3 L872.3 508.3 L873.5 512.5 L874.8 508.3 L876.1 508.3 L877.3 512.5 L878.6 508.3 L879.9 512.5 L887.4 512.5 L888.6 516.7 L894.8 516.7 L896.0 520.9 L902.3 520.9 L903.5 525.1 L904.8 520.9 L906.0 525.1 L909.8 525.1 L911.0 529.3 L912.3 525.1 L913.5 529.3 L916.0 529.3 L917.3 533.5 L921.1 533.5 L922.3 537.7 L923.6 537.7 L924.8 533.5 L926.1 533.5 L927.3 537.7 L934.8 537.7 L936.1 541.9 L937.3 537.7 L938.6 537.7 L939.8 541.9 L948.8 541.9 L950.1 546.1 L951.4 541.9 L952.7 546.1 L955.2 546.1 L956.5 550.3 L957.8 550.3 L959.1 546.1 L960.4 550.3 L966.8 550.3 L968.0 554.5 L969.3 554.5 L970.6 550.3 L971.9 554.5 L978.2 554.5 L979.5 558.7 L980.8 558.7 L982.0 554.5 L983.3 558.7 L988.4 558.7 L989.6 562.9 L1002.3 562.9 L1003.6 567.1 L1012.5 567.1 L1013.7 571.3 L1015.0 571.3 L1016.3 567.1 L1017.5 571.3 L1021.3 571.3 L1022.6 575.5 L1023.9 571.3 L1025.1 575.5 L1026.4 571.3 L1027.7 575.5 L1037.8 575.5 L1039.1 579.7 L1040.4 579.7 L1041.7 575.5 L1042.9 579.7 L1044.2 583.9 L1045.5 579.7 L1049.3 579.7 L1050.5 583.9 L1051.8 579.7 L1053.1 583.9 L1059.5 583.9 L1060.8 588.1 L1062.1 583.9 L1063.4 583.9 L1064.7 588.1 L1078.8 588.1 L1080.1 592.3 L1081.3 588.1 L1083.8 588.1 L1085.1 592.3 L1098.9 592.3 L1100.1 596.5 L1101.4 592.3 L1103.9 592.3 L1105.1 596.5 L1106.4 596.5 L1107.6 592.3 L1108.9 596.5 L1115.1 596.5 L1116.4 600.7 L1123.9 600.7 L1125.1 604.9 L1126.4 600.7 L1127.6 604.9 L1130.1 604.9 L1131.4 600.7 L1132.6 604.9 L1136.4 604.9 L1137.6 600.7 L1138.9 604.9 L1141.4 604.9 L1142.7 609.1 L1143.9 604.9 L1147.7 604.9 L1148.9 609.1 L1150.2 609.1 L1151.4 604.9 L1152.7 609.1 L1166.5 609.1 L1167.7 613.3 L1169.0 613.3 L1170.2 609.1 L1171.5 613.3 L1186.5 613.3 L1187.8 617.5 L1189.0 613.3 L1190.3 617.5 L1199.1 617.5 L1200.3 621.7 L1201.6 617.5 L1202.8 617.5 L1204.1 621.7 L1209.1 621.7 L1210.4 625.9 L1211.7 621.7 L1233.4 621.7 L1234.6 625.9 L1238.5 625.9 L1239.7 621.7 L1241.0 625.9 L1244.8 625.9 L1246.1 621.7 L1247.4 625.9 L1252.5 625.9 L1253.8 626.6 L1254.9 632.0 L1255.9 637.5 L1257.0 642.9 L1258.2 651.0 L1259.5 659.1 L1260.8 667.3 L1262.0 675.4 L1263.2 685.2 L1264.4 695.0 L1265.6 704.7 L1266.8 714.5 L1268.0 720.2 L1269.2 725.9 L1270.5 731.6 L1271.7 735.1 L1272.9 739.3 L1274.0 739.3 L1275.2 743.5 L1276.4 743.5 L1277.6 746.7 L1278.7 748.5 L1279.9 750.4 L1281.2 750.5 L1282.5 750.6 L1283.8 746.5 L1285.1 750.8 L1286.4 750.9 L1287.7 751.0 L1289.0 751.1 L1290.3 751.3 L1291.6 751.4 L1292.9 751.5 L1294.2 751.6 L1295.5 751.7 L1296.8 751.8 L1298.1 751.9 L1299.4 752.0 L1300.6 753.1 L1301.7 754.3 L1302.9 755.4 L1304.1 756.6 L1305.3 757.7 L1306.4 758.9 L1307.6 760.0 L1308.9 760.0 L1310.1 760.5 L1311.4 760.5 L1312.7 766.8 L1314.0 760.5 L1315.2 760.5 L1316.5 766.8 L1317.8 766.8 L1319.1 760.5 L1320.3 760.5 L1321.6 766.8 L1322.9 760.5 L1325.4 760.5 L1326.7 766.8 L1328.0 760.5 L1329.3 760.5 L1330.5 766.8 L1331.8 760.5 L1333.1 766.8 L1334.4 766.8 L1335.6 760.5 L1336.9 766.8 L1338.2 760.5 L1340.8 760.5 L1342.0 766.8 L1344.6 766.8 L1345.9 760.5 L1347.2 766.8 L1348.5 760.5 L1351.0 760.5 L1352.3 766.8 L1353.6 760.5 L1354.9 766.8 L1356.2 760.5 L1357.4 766.8 L1358.7 760.5 L1360.0 766.8 L1362.5 766.8 L1363.8 760.5 L1365.0 760.5 L1366.2 766.8 L1367.5 760.5 L1368.8 766.8 L1370.0 760.5 L1371.2 766.8 L1372.5 760.5 L1373.8 766.8 L1375.0 766.8 L1376.2 760.5 L1377.5 766.8 L1378.8 766.8 L1380.0 760.5 L1381.2 766.8 L1383.8 766.8 L1385.0 760.5 L1388.8 760.5 L1390.0 766.8 L1391.2 766.8 L1392.5 760.5 L1393.8 766.8 L1397.5 766.8 L1398.8 760.5 L1400.0 766.8 L1402.5 766.8 L1403.8 760.5 L1405.0 766.8 L1406.2 766.8 L1407.5 760.5 L1408.8 766.8 L1410.0 760.5 L1411.2 766.8 L1412.5 766.8 L1413.8 760.5 L1415.0 766.8 L1417.5 766.8 L1418.8 760.5 L1420.0 766.8 L1421.3 760.5 L1422.5 766.8 L1426.4 766.8 L1427.6 760.5 L1428.9 766.8 L1430.2 760.5 L1436.5 760.5 L1437.8 766.8 L1439.1 760.5 L1440.3 766.8 L1441.6 760.5 L1444.1 760.5 L1445.4 766.8 L1446.7 760.5 L1448.0 766.8 L1453.0 766.8 L1454.3 760.5 L1455.6 760.5 L1456.9 766.8 L1458.1 760.5 L1459.4 766.8 L1460.7 760.5 L1461.9 760.5 L1463.2 766.8 L1465.8 766.8 L1467.0 760.5 L1468.3 760.5 L1469.6 766.8 L1472.1 766.8 L1473.4 760.5 L1474.6 766.8 L1479.7 766.8 L1481.0 765.0" stroke="#ED7D31"/>
<path d="M486.0 779.5 L487.4 778.0 L488.7 776.5 L490.1 775.0 L491.7 760.0 L493.0 740.0 L494.3 720.0 L495.6 700.0 L496.9 685.7 L498.1 671.4 L499.4 657.1 L500.7 642.9 L502.0 628.6 L503.2 614.3 L504.5 600.0 L505.9 585.0 L507.3 570.0 L508.7 555.0 L510.1 540.0 L510.9 520.0 L512.4 510.0 L513.8 500.0 L515.3 490.0 L516.5 485.3 L517.7 480.6 L518.8 475.9 L520.0 471.2 L521.2 466.5 L522.4 461.8 L523.5 457.1 L524.7 452.3 L525.8 447.6 L527.0 442.9 L528.2 440.6 L529.4 438.2 L530.5 435.9 L531.7 433.5 L532.9 431.2 L534.1 426.8 L535.4 422.4 L536.6 417.9 L537.8 413.5 L539.1 409.1 L540.3 404.7 L541.5 400.0 L542.7 395.3 L543.8 390.6 L545.0 385.9 L546.2 382.3 L547.4 378.1 L549.7 378.1 L550.8 373.9 L555.7 373.9 L556.9 369.7 L558.2 369.7 L559.4 372.4 L560.9 368.9 L562.3 365.5 L563.8 361.3 L565.1 365.5 L566.4 361.3 L569.0 361.3 L570.2 357.1 L576.5 357.1 L577.6 361.3 L578.8 357.1 L581.2 357.1 L582.5 352.9 L583.7 352.9 L584.9 348.7 L586.2 348.7 L587.4 344.5 L588.6 344.5 L589.8 348.7 L591.0 348.7 L592.3 344.5 L593.5 348.7 L594.7 344.5 L602.0 344.5 L603.5 348.7 L605.9 348.7 L607.0 352.9 L608.2 352.9 L609.4 357.1 L619.5 357.1 L620.7 361.3 L623.2 361.3 L624.5 365.5 L625.7 365.5 L627.0 369.7 L629.5 369.7 L630.8 365.5 L632.1 369.7 L634.6 369.7 L635.9 373.9 L637.2 369.7 L638.5 369.7 L639.8 373.9 L641.1 373.9 L642.4 369.7 L643.7 373.9 L645.1 369.7 L646.4 373.9 L657.8 373.9 L659.0 378.1 L660.2 373.9 L661.5 378.1 L668.9 378.1 L670.2 382.3 L671.5 382.3 L672.8 378.1 L674.2 378.1 L675.5 382.3 L676.8 386.5 L678.1 386.5 L679.4 382.3 L680.6 386.5 L684.1 386.5 L685.3 390.0 L686.8 387.1 L688.2 386.5 L694.3 386.5 L695.5 390.7 L696.8 386.5 L698.0 390.7 L704.1 390.7 L705.4 394.9 L707.8 394.9 L709.0 399.1 L712.7 399.1 L713.9 403.3 L715.1 399.1 L716.4 403.3 L717.6 407.5 L720.1 407.5 L721.3 403.3 L722.5 407.5 L723.8 407.5 L725.0 403.3 L726.2 407.5 L729.9 407.5 L731.2 411.7 L747.0 411.7 L748.2 415.9 L751.9 415.9 L753.2 420.1 L754.4 415.9 L755.6 415.9 L756.9 420.1 L759.3 420.1 L760.6 424.3 L764.4 424.3 L765.7 420.1 L767.0 424.3 L768.3 428.5 L769.6 424.3 L770.9 428.5 L772.2 424.3 L773.5 424.3 L774.7 428.5 L776.0 428.5 L777.2 432.7 L779.6 432.7 L780.9 436.9 L784.5 436.9 L785.8 441.1 L792.0 441.1 L793.3 445.3 L797.0 445.3 L798.3 441.1 L799.6 445.3 L800.8 445.3 L802.1 441.1 L803.4 445.3 L808.4 445.3 L809.6 449.5 L813.2 449.5 L814.5 453.7 L816.9 453.7 L818.1 449.5 L819.4 453.7 L823.0 453.7 L824.3 457.9 L828.0 457.9 L829.2 462.1 L830.4 457.9 L831.6 462.1 L834.1 462.1 L835.3 466.3 L840.2 466.3 L841.4 462.1 L842.6 466.3 L851.2 466.3 L852.5 470.5 L853.7 470.5 L854.9 474.7 L856.1 470.5 L857.4 470.5 L858.6 474.7 L859.8 478.9 L863.5 478.9 L864.7 483.1 L875.7 483.1 L877.0 487.3 L880.6 487.3 L881.9 491.5 L885.5 491.5 L886.8 495.7 L890.4 495.7 L891.6 499.9 L892.9 504.1 L894.1 499.9 L895.3 504.1 L896.5 499.9 L897.8 499.9 L899.0 504.1 L903.9 504.1 L905.1 508.3 L906.3 504.1 L908.8 504.1 L910.0 508.3 L916.1 508.3 L917.4 512.5 L918.6 512.5 L919.8 508.3 L921.0 512.5 L924.8 512.5 L926.1 516.7 L927.4 512.5 L928.7 512.5 L930.1 516.7 L935.3 516.7 L936.5 520.9 L939.9 520.9 L941.1 525.1 L945.0 525.1 L946.2 529.3 L951.4 529.3 L952.7 533.5 L953.9 533.5 L955.2 529.3 L956.5 529.3 L957.8 533.5 L964.2 533.5 L965.5 537.7 L969.3 537.7 L970.6 541.9 L971.9 537.7 L973.1 537.7 L974.4 541.9 L982.0 541.9 L983.3 546.1 L987.1 546.1 L988.4 550.3 L989.6 546.1 L990.9 550.3 L992.2 546.1 L994.7 546.1 L996.0 554.5 L997.3 550.3 L1001.1 550.3 L1002.3 554.5 L1003.6 550.3 L1004.9 558.7 L1006.1 554.5 L1009.9 554.5 L1011.2 558.7 L1012.5 554.5 L1013.7 558.7 L1015.0 558.7 L1016.3 562.9 L1017.5 558.7 L1020.1 558.7 L1021.3 562.9 L1029.0 562.9 L1030.2 567.1 L1031.5 567.1 L1032.8 562.9 L1034.1 567.1 L1041.7 567.1 L1043.0 571.3 L1050.5 571.3 L1051.7 575.5 L1061.7 575.5 L1063.0 579.7 L1064.2 579.7 L1065.4 575.5 L1066.6 579.7 L1067.8 575.5 L1069.0 579.7 L1076.3 579.7 L1077.6 583.9 L1078.8 579.7 L1080.1 583.9 L1092.6 583.9 L1093.9 588.1 L1106.4 588.1 L1107.6 592.3 L1108.9 588.1 L1110.1 588.1 L1111.4 592.3 L1112.6 588.1 L1113.9 592.3 L1122.6 592.3 L1123.9 596.5 L1130.1 596.5 L1131.4 600.7 L1132.6 600.7 L1133.9 596.5 L1135.1 600.7 L1141.4 600.7 L1142.7 604.9 L1155.2 604.9 L1156.4 609.1 L1159.0 609.1 L1160.2 604.9 L1161.5 609.1 L1167.7 609.1 L1169.0 604.9 L1170.2 609.1 L1176.5 609.1 L1177.7 613.3 L1180.1 613.3 L1181.3 609.1 L1182.6 613.3 L1183.8 609.1 L1185.0 613.3 L1186.2 609.1 L1187.5 609.1 L1188.7 611.0 L1190.0 613.5 L1191.3 615.9 L1192.6 618.4 L1193.9 620.8 L1195.2 623.3 L1196.4 632.2 L1197.6 641.2 L1198.8 650.1 L1200.0 659.1 L1201.2 671.3 L1202.5 683.5 L1203.8 695.8 L1205.0 708.0 L1206.2 714.5 L1207.4 721.0 L1208.6 727.5 L1209.8 734.0 L1211.1 737.3 L1212.4 740.6 L1213.8 743.8 L1215.1 747.1 L1216.4 750.4 L1217.7 751.4 L1219.0 752.3 L1220.3 753.3 L1221.6 754.2 L1222.9 759.4 L1224.2 755.3 L1225.4 755.4 L1226.7 755.4 L1227.9 755.5 L1229.2 755.6 L1230.4 755.7 L1231.7 755.7 L1232.9 755.8 L1234.2 755.9 L1235.4 756.0 L1236.7 756.0 L1237.9 756.1 L1239.2 756.2 L1240.5 757.6 L1241.8 759.1 L1243.1 760.5 L1244.4 762.0 L1245.7 763.4 L1246.9 763.5 L1248.2 763.6 L1249.4 759.4 L1250.7 759.5 L1251.9 763.8 L1253.1 763.9 L1254.4 763.9 L1255.6 764.0 L1256.8 764.1 L1258.1 764.2 L1259.3 764.2 L1260.6 764.3 L1261.8 764.4 L1263.0 764.5 L1264.3 764.5 L1265.5 760.4 L1266.7 764.7 L1268.0 764.8 L1269.2 764.8 L1270.5 764.9 L1271.7 765.0 L1273.0 765.0 L1274.2 765.1 L1275.5 765.1 L1276.8 765.1 L1278.0 765.2 L1279.3 765.2 L1280.6 765.3 L1281.8 765.3 L1283.1 765.3 L1284.3 765.4 L1285.6 765.4 L1286.9 765.4 L1288.1 765.5 L1289.4 765.5 L1290.7 765.6 L1291.9 765.6 L1293.2 769.8 L1294.5 765.7 L1295.7 765.7 L1297.0 765.7 L1298.3 765.8 L1299.5 765.8 L1300.8 765.9 L1302.1 765.9 L1303.3 765.9 L1304.6 766.0 L1305.8 766.0 L1307.1 766.0 L1308.4 766.1 L1309.6 766.1 L1310.9 766.1 L1312.2 766.2 L1313.4 766.2 L1314.7 766.3 L1316.0 766.3 L1317.2 762.1 L1318.5 766.4 L1319.8 766.4 L1321.0 770.6 L1322.3 766.5 L1323.6 762.3 L1324.8 766.6 L1326.1 766.6 L1327.4 766.6 L1328.6 766.7 L1329.9 766.7 L1331.1 766.7 L1332.4 766.8 L1333.7 766.8 L1334.9 766.9 L1336.2 766.9 L1337.5 766.9 L1338.7 767.0 L1340.0 767.0 L1341.3 767.1 L1342.6 767.2 L1343.9 767.3 L1345.2 767.4 L1346.5 767.5 L1347.8 767.6 L1349.1 763.5 L1350.4 767.8 L1351.6 767.8 L1352.9 767.9 L1354.2 768.0 L1355.5 768.1 L1356.8 768.2 L1358.1 768.3 L1359.4 768.4 L1360.7 768.5 L1362.0 768.6 L1381.0 768.6 L1382.3 772.8 L1383.6 768.6 L1389.9 768.6 L1391.2 764.4 L1392.5 768.6 L1401.4 768.6 L1402.6 764.4 L1403.9 768.6 L1412.8 768.6" stroke="#A5A5A5"/>
<path d="M548.0 779.5 L549.4 778.0 L550.8 776.5 L552.2 775.0 L553.3 767.5 L554.4 760.0 L555.7 740.0 L557.0 720.0 L558.3 700.0 L559.6 680.0 L561.0 660.0 L562.3 640.0 L563.7 620.0 L565.0 600.0 L566.1 588.0 L567.3 576.0 L568.4 564.0 L569.6 552.0 L570.7 540.0 L571.8 533.3 L573.0 526.7 L574.1 520.0 L575.6 505.1 L577.0 490.2 L578.5 475.3 L579.7 467.1 L580.9 458.8 L582.0 450.6 L583.2 442.3 L584.4 434.1 L585.6 428.2 L586.8 422.3 L587.9 416.5 L589.1 410.6 L590.3 404.7 L591.5 400.3 L592.7 395.9 L594.0 391.4 L595.2 387.0 L596.4 382.6 L597.6 378.2 L599.0 372.9 L600.3 367.6 L601.7 362.4 L603.0 357.1 L604.4 351.8 L605.6 348.9 L606.9 345.9 L608.1 343.0 L609.3 340.0 L610.6 337.1 L611.8 336.1 L613.1 336.1 L614.3 331.9 L618.1 331.9 L619.3 327.7 L620.6 328.2 L621.9 325.8 L623.2 323.4 L624.5 321.0 L625.8 318.6 L627.0 316.3 L628.3 313.9 L629.6 311.5 L630.9 306.7 L635.6 306.7 L636.8 302.5 L651.7 302.5 L652.9 303.2 L654.4 306.7 L659.4 306.7 L660.7 310.9 L661.9 306.7 L663.2 310.9 L665.6 310.9 L666.7 315.1 L673.8 315.1 L675.0 310.9 L676.3 310.9 L677.6 315.1 L678.9 310.9 L680.1 315.1 L685.3 315.1 L686.6 319.3 L687.9 315.1 L689.2 315.1 L690.5 319.3 L697.0 319.3 L698.3 323.5 L699.5 319.3 L700.8 323.5 L702.1 323.5 L703.4 327.7 L720.2 327.7 L721.5 331.9 L726.8 331.9 L728.1 336.1 L729.4 336.1 L730.7 340.3 L733.3 340.3 L734.5 344.5 L735.8 340.3 L737.1 344.5 L738.4 348.7 L751.3 348.7 L752.6 352.9 L753.9 348.7 L755.1 352.9 L756.4 348.7 L757.7 352.9 L764.0 352.9 L765.3 357.1 L766.5 357.1 L767.8 361.3 L771.5 361.3 L772.8 365.5 L775.3 365.5 L776.5 369.7 L777.8 369.7 L779.0 365.5 L781.5 365.5 L782.8 369.7 L786.5 369.7 L787.8 373.9 L791.5 373.9 L792.8 378.1 L796.6 378.1 L798.0 382.3 L804.6 382.3 L805.9 386.5 L812.4 386.5 L813.7 390.7 L815.0 390.7 L816.3 394.9 L817.6 390.7 L818.8 390.7 L820.1 394.9 L821.3 394.9 L822.5 390.7 L823.8 390.7 L825.0 391.5 L826.5 394.9 L827.9 398.4 L829.4 403.3 L836.0 403.3 L837.3 407.5 L841.2 407.5 L842.5 411.7 L845.1 411.7 L846.4 415.9 L849.0 415.9 L850.3 420.1 L854.2 420.1 L855.5 424.3 L860.8 424.3 L862.1 428.5 L863.4 424.3 L864.7 428.5 L867.2 428.5 L868.4 432.7 L873.3 432.7 L874.5 436.9 L875.7 436.9 L877.0 441.1 L880.6 441.1 L881.9 445.3 L888.0 445.3 L889.2 449.5 L892.9 449.5 L894.1 453.7 L896.5 453.7 L897.8 457.9 L902.7 457.9 L903.9 462.1 L905.1 462.1 L906.3 466.3 L910.0 466.3 L911.2 470.5 L917.4 470.5 L918.6 474.7 L923.5 474.7 L924.7 478.9 L926.0 474.7 L927.2 478.9 L933.3 478.9 L934.5 483.1 L938.2 483.1 L939.4 487.3 L940.7 483.1 L941.9 487.3 L943.1 491.5 L944.3 487.3 L945.5 491.5 L951.7 491.5 L952.9 495.7 L957.8 495.7 L959.0 499.9 L961.5 499.9 L962.7 504.1 L968.8 504.1 L970.1 508.3 L972.5 508.3 L973.8 512.5 L975.0 508.3 L976.2 508.3 L977.5 512.5 L979.9 512.5 L981.2 516.7 L982.4 516.7 L983.6 512.5 L984.9 516.7 L986.1 520.9 L992.3 520.9 L993.5 525.1 L1001.1 525.1 L1002.3 529.3 L1003.6 525.1 L1004.9 529.3 L1012.5 529.3 L1013.7 533.5 L1023.9 533.5 L1025.1 537.7 L1030.2 537.7 L1031.5 541.9 L1041.7 541.9 L1042.9 546.1 L1049.3 546.1 L1050.5 550.3 L1051.8 550.3 L1053.1 546.1 L1054.4 550.3 L1060.8 550.3 L1062.1 554.5 L1069.8 554.5 L1071.1 558.7 L1078.8 558.7 L1080.1 562.9 L1083.8 562.9 L1085.1 567.1 L1091.3 567.1 L1092.6 571.3 L1093.9 567.1 L1095.1 567.1 L1096.4 571.3 L1097.6 571.3 L1098.9 567.1 L1100.1 571.3 L1101.4 575.5 L1102.6 571.3 L1105.1 571.3 L1106.4 575.5 L1107.6 571.3 L1108.9 575.5 L1118.9 575.5 L1120.1 579.7 L1121.4 575.5 L1122.6 579.7 L1123.9 575.5 L1125.1 579.7 L1127.4 579.7 L1128.6 583.9 L1129.8 588.1 L1132.1 588.1 L1133.3 590.7 L1134.5 601.1 L1135.7 611.6 L1136.8 622.0 L1138.0 632.5 L1139.2 642.9 L1140.5 659.2 L1141.9 675.5 L1143.2 691.7 L1144.6 708.0 L1145.8 714.5 L1147.0 721.0 L1148.2 727.6 L1149.4 734.1 L1150.6 739.3 L1151.8 739.3 L1153.0 743.5 L1154.2 746.3 L1155.3 748.2 L1156.5 750.1 L1157.7 752.0 L1158.9 752.6 L1160.2 753.2 L1161.4 753.8 L1162.6 754.5 L1163.8 755.1 L1165.0 755.7 L1166.3 756.3 L1167.5 756.9 L1168.8 757.2 L1170.0 757.5 L1171.2 757.8 L1172.5 758.0 L1173.8 758.3 L1175.0 758.6 L1176.2 758.9 L1177.5 759.2 L1178.8 759.5 L1180.0 759.7 L1181.2 760.0 L1182.5 760.3 L1183.8 756.4 L1185.0 756.7 L1186.2 761.1 L1187.5 761.4 L1188.8 761.7 L1190.0 762.0 L1191.3 762.0 L1192.5 762.1 L1193.8 757.9 L1195.1 762.2 L1196.3 762.2 L1197.6 762.2 L1198.9 762.3 L1200.2 762.3 L1201.4 758.1 L1202.7 762.4 L1204.0 762.4 L1205.2 762.5 L1206.5 762.5 L1207.8 762.5 L1209.0 762.6 L1210.3 762.6 L1211.6 762.7 L1212.8 762.7 L1214.1 762.7 L1215.4 762.8 L1216.7 762.8 L1217.9 762.8 L1219.2 762.9 L1220.5 762.9 L1221.7 763.0 L1223.0 767.2 L1224.3 763.1 L1225.6 763.1 L1226.8 763.2 L1228.1 763.3 L1229.4 763.3 L1230.7 767.6 L1231.9 763.5 L1233.2 763.6 L1234.5 763.6 L1235.8 763.7 L1237.0 763.8 L1238.3 763.8 L1239.6 763.9 L1240.9 764.0 L1242.1 764.0 L1243.4 764.1 L1244.7 764.2 L1246.0 764.2 L1247.2 764.3 L1248.5 760.2 L1249.8 764.4 L1251.1 764.5 L1252.3 764.6 L1253.6 764.7 L1254.9 764.7 L1256.2 764.8 L1257.4 764.9 L1258.7 764.9 L1260.0 765.0" stroke="#FFC000"/>
<path d="M608.0 779.5 L609.4 778.0 L610.8 776.5 L612.2 775.0 L613.8 767.5 L615.3 760.0 L616.7 740.0 L618.2 720.0 L619.6 700.0 L620.9 680.0 L622.2 660.0 L623.4 640.0 L624.7 620.0 L626.0 600.0 L627.2 585.0 L628.5 570.0 L629.8 555.0 L631.0 540.0 L632.4 530.0 L633.8 520.0 L635.1 507.1 L636.4 494.1 L637.7 481.2 L639.0 468.2 L640.2 455.3 L641.5 442.4 L642.8 429.4 L644.1 416.5 L645.3 411.2 L646.5 405.9 L647.6 400.6 L648.8 395.3 L650.0 386.5 L651.2 390.7 L652.4 386.5 L653.5 386.5 L654.7 382.3 L655.9 379.7 L657.2 374.4 L658.5 369.0 L659.8 363.7 L661.0 358.4 L662.3 353.0 L663.6 347.7 L664.9 342.3 L666.2 337.0 L667.5 333.5 L668.8 330.0 L670.1 326.5 L671.4 323.1 L672.6 319.6 L673.9 316.1 L675.2 312.6 L676.5 306.7 L680.1 306.7 L681.4 302.5 L685.0 302.5 L686.3 298.3 L688.7 298.3 L690.0 294.1 L705.4 294.1 L706.7 289.9 L708.0 294.1 L716.1 294.1 L717.6 298.3 L718.8 298.3 L720.0 302.5 L721.1 306.7 L722.3 306.7 L723.5 310.9 L724.7 306.7 L726.0 310.9 L730.9 310.9 L732.4 306.7 L733.8 310.9 L737.8 310.9 L739.0 315.1 L740.2 310.9 L761.3 310.9 L762.6 315.1 L765.1 315.1 L766.3 319.3 L772.7 319.3 L774.0 323.5 L780.4 323.5 L781.7 327.7 L784.3 327.7 L785.6 331.9 L786.9 331.9 L788.2 336.1 L790.8 336.1 L792.1 331.9 L793.4 336.1 L802.4 336.1 L803.5 340.3 L805.9 340.3 L807.2 344.5 L811.1 344.5 L812.4 348.7 L813.7 344.5 L815.0 348.7 L818.9 348.7 L820.1 352.9 L825.2 352.9 L826.5 357.1 L833.0 357.1 L834.3 361.3 L835.6 361.3 L836.9 357.1 L838.2 361.3 L840.7 361.3 L842.0 365.5 L843.2 365.5 L844.5 369.7 L849.6 369.7 L850.9 373.9 L852.2 378.1 L854.9 378.1 L856.2 382.3 L860.1 382.3 L861.4 386.5 L864.0 386.5 L865.4 390.7 L869.3 390.7 L870.6 394.9 L871.9 390.7 L873.2 394.9 L874.5 399.1 L875.8 394.9 L877.2 399.1 L878.5 399.1 L879.8 403.3 L881.1 403.3 L882.4 399.1 L883.7 399.1 L885.0 403.3 L886.3 407.5 L891.5 407.5 L892.8 411.7 L896.7 411.7 L898.0 415.9 L900.7 415.9 L902.0 420.1 L904.6 420.1 L905.9 424.3 L909.8 424.3 L911.1 432.7 L912.4 428.5 L913.7 432.7 L917.6 432.7 L918.9 436.9 L920.2 436.9 L921.5 432.7 L922.8 436.9 L924.2 441.1 L928.1 441.1 L929.4 445.3 L932.0 445.3 L933.3 449.5 L934.6 445.3 L936.0 449.5 L938.6 449.5 L939.9 453.7 L942.5 453.7 L943.8 457.9 L945.1 453.7 L946.4 457.9 L950.3 457.9 L951.6 462.1 L956.8 462.1 L958.1 466.3 L960.8 466.3 L962.1 470.5 L968.6 470.5 L969.9 474.7 L972.6 474.7 L973.9 478.9 L979.1 478.9 L980.4 483.1 L981.7 483.1 L983.0 487.3 L986.9 487.3 L988.2 491.5 L992.1 491.5 L993.4 495.7 L994.8 495.7 L996.1 491.5 L997.4 495.7 L1001.3 495.7 L1002.6 499.9 L1005.2 499.9 L1006.6 504.1 L1010.5 504.1 L1011.8 508.3 L1015.5 508.3 L1016.7 512.5 L1020.4 512.5 L1021.6 516.7 L1022.8 512.5 L1024.0 516.7 L1025.3 512.5 L1026.5 516.7 L1031.4 516.7 L1032.6 520.9 L1036.3 520.9 L1037.5 525.1 L1049.1 525.1 L1050.4 529.3 L1055.6 529.3 L1056.9 533.5 L1058.1 529.3 L1059.3 533.5 L1060.5 529.3 L1061.7 533.5 L1064.2 533.5 L1065.4 537.7 L1066.6 537.7 L1067.8 541.9 L1070.2 541.9 L1071.4 537.7 L1072.7 541.9 L1073.9 541.9 L1075.1 537.7 L1076.3 541.9 L1082.6 541.9 L1083.8 546.1 L1085.1 546.1 L1086.3 541.9 L1087.6 541.9 L1088.8 546.1 L1093.9 546.1 L1095.1 550.3 L1096.4 546.1 L1097.6 550.3 L1103.9 550.3 L1105.1 554.5 L1110.2 554.5 L1111.4 558.7 L1112.7 558.7 L1114.0 554.5 L1115.2 558.7 L1116.5 562.9 L1119.0 562.9 L1120.3 563.0 L1121.5 574.8 L1122.7 586.6 L1123.9 598.5 L1125.1 610.3 L1126.3 626.6 L1127.5 642.8 L1128.8 659.1 L1130.0 675.4 L1131.2 686.8 L1132.5 698.2 L1133.8 709.6 L1135.0 721.0 L1136.3 726.2 L1137.6 731.4 L1138.8 736.6 L1140.1 741.8 L1141.4 747.0 L1142.6 747.4 L1143.8 747.8 L1145.0 748.1 L1146.2 748.5 L1147.4 748.9 L1148.6 749.2 L1149.8 749.6 L1151.0 750.0 L1152.3 751.0 L1153.7 752.1 L1155.0 753.1 L1156.4 754.2 L1157.7 755.2 L1159.0 755.6 L1160.2 755.9 L1161.5 756.3 L1162.7 756.7 L1164.0 757.0 L1165.2 757.4 L1166.5 757.8 L1167.7 762.4 L1169.0 758.5 L1170.2 754.7 L1171.5 759.3 L1172.7 759.6 L1174.0 760.0 L1175.3 760.7 L1176.5 761.5 L1177.8 762.2 L1179.1 762.9 L1180.3 763.7 L1181.6 764.4 L1182.9 765.1 L1184.1 765.9 L1185.4 766.6 L1186.7 766.6 L1187.9 766.7 L1189.2 766.7 L1190.5 766.8 L1191.8 766.8 L1193.0 766.8 L1194.3 766.9 L1195.6 766.9 L1196.9 767.0 L1198.1 767.0 L1199.4 767.0 L1200.7 767.1 L1202.0 767.1 L1203.2 771.4 L1204.5 767.2 L1205.8 767.2 L1207.1 767.3 L1208.3 767.3 L1209.6 767.4 L1210.9 767.4 L1212.2 767.4 L1213.4 767.5 L1214.7 767.5 L1216.0 767.6 L1217.3 767.6 L1218.5 767.6 L1219.8 767.7 L1221.1 767.7 L1222.4 767.8 L1223.6 767.8 L1224.9 767.8 L1226.2 767.9 L1227.5 767.9 L1228.7 768.0 L1230.0 768.0 L1232.5 768.0 L1233.8 772.2 L1235.0 768.0 L1260.0 768.0 L1261.2 763.8 L1262.5 768.0 L1290.0 768.0" stroke="#4472C4"/>
<path d="M671.0 779.5 L672.1 778.4 L673.2 777.2 L674.4 776.1 L675.5 775.0 L677.0 767.5 L678.4 760.0 L679.5 745.0 L680.7 730.0 L681.9 715.0 L683.0 700.0 L684.2 683.3 L685.5 666.7 L686.7 650.0 L687.9 633.3 L689.2 616.7 L690.4 600.0 L691.7 590.0 L693.0 580.0 L694.3 570.0 L695.6 560.0 L696.9 550.0 L698.2 540.0 L699.3 533.3 L700.4 526.7 L701.5 520.0 L702.7 510.6 L703.9 501.2 L705.1 491.8 L706.4 482.3 L707.6 472.9 L708.8 463.5 L710.0 456.6 L711.3 449.8 L712.5 442.9 L713.7 436.1 L715.0 429.2 L716.2 422.4 L717.4 420.2 L718.6 418.0 L719.9 415.8 L721.1 413.5 L722.3 411.3 L723.5 409.1 L724.7 401.5 L726.0 393.9 L727.2 386.3 L728.4 378.7 L729.7 371.1 L730.9 363.5 L732.1 359.1 L733.3 354.7 L734.5 350.2 L735.8 345.8 L737.0 341.4 L738.2 340.3 L739.5 336.1 L740.7 331.9 L743.2 331.9 L744.5 327.7 L745.7 327.7 L747.0 323.5 L748.3 319.3 L752.1 319.3 L753.4 315.1 L754.6 315.1 L755.9 310.9 L758.3 310.9 L759.4 306.7 L760.6 310.9 L767.0 310.9 L768.3 306.7 L769.6 310.9 L783.3 310.9 L784.5 315.1 L785.8 310.9 L787.0 310.9 L788.2 315.1 L800.5 315.1 L801.7 319.3 L808.9 319.3 L810.2 315.1 L812.6 315.1 L813.8 319.3 L819.9 319.3 L821.1 323.5 L826.1 323.5 L827.4 327.7 L837.8 327.7 L839.1 331.9 L840.3 331.9 L841.6 336.1 L845.4 336.1 L846.7 340.3 L848.0 340.3 L849.3 336.1 L850.7 340.3 L852.0 340.3 L853.3 344.5 L854.6 340.3 L855.9 344.5 L857.1 340.3 L858.4 344.5 L863.2 344.5 L864.5 348.7 L865.7 344.5 L866.9 348.7 L870.6 348.7 L871.9 352.9 L874.4 352.9 L875.6 357.1 L876.9 352.9 L878.1 357.1 L879.4 361.3 L886.9 361.3 L888.2 365.5 L889.5 361.3 L890.7 365.5 L892.0 361.3 L893.2 361.3 L894.5 365.5 L897.0 365.5 L898.3 369.7 L899.6 365.5 L900.9 369.7 L902.2 369.7 L903.6 373.9 L906.2 373.9 L907.5 378.1 L908.8 378.1 L910.1 382.3 L915.1 382.3 L916.3 386.5 L917.6 386.5 L918.9 390.7 L921.4 390.7 L922.7 394.9 L924.0 394.9 L925.2 399.1 L926.5 399.1 L927.8 403.3 L930.4 403.3 L931.7 407.5 L933.0 403.3 L934.3 407.5 L935.6 403.3 L936.9 411.7 L938.2 407.5 L939.5 411.7 L940.8 411.7 L942.1 415.9 L946.1 415.9 L947.4 420.1 L948.7 424.3 L955.2 424.3 L956.6 428.5 L957.9 428.5 L959.2 432.7 L961.8 432.7 L963.1 436.9 L965.7 436.9 L967.0 441.1 L970.9 441.1 L972.2 445.3 L973.5 445.3 L974.8 449.5 L976.1 445.3 L977.4 449.5 L984.0 449.5 L985.3 453.7 L986.6 449.5 L987.9 453.7 L989.2 457.9 L995.7 457.9 L997.0 462.1 L998.3 466.3 L1002.2 466.3 L1003.5 470.5 L1007.4 470.5 L1008.7 474.7 L1010.0 474.7 L1011.2 478.9 L1012.5 474.7 L1013.8 474.7 L1015.0 478.9 L1016.2 478.9 L1017.5 483.1 L1018.8 483.1 L1020.0 487.3 L1025.0 487.3 L1026.2 491.5 L1031.2 491.5 L1032.5 495.7 L1043.8 495.7 L1045.0 499.9 L1052.5 499.9 L1053.8 504.1 L1056.2 504.1 L1057.5 508.3 L1058.8 504.1 L1060.0 508.3 L1061.3 508.3 L1062.5 512.5 L1068.8 512.5 L1070.0 516.7 L1077.6 516.7 L1078.8 520.9 L1081.3 520.9 L1082.6 525.1 L1085.1 525.1 L1086.3 529.3 L1087.6 525.1 L1088.8 525.1 L1090.1 529.3 L1096.4 529.3 L1097.6 533.5 L1105.1 533.5 L1106.4 537.7 L1110.1 537.7 L1111.4 541.9 L1112.6 537.7 L1113.9 541.9 L1122.6 541.9 L1123.9 546.1 L1125.1 541.9 L1126.4 546.1 L1130.4 546.1 L1131.7 545.1 L1132.9 551.6 L1134.1 558.2 L1135.3 564.7 L1136.5 571.2 L1137.6 585.5 L1138.8 599.9 L1139.9 614.2 L1141.1 628.6 L1142.2 642.9 L1143.5 659.2 L1144.8 675.5 L1146.1 691.7 L1147.4 708.0 L1148.6 714.5 L1149.9 721.0 L1151.1 727.6 L1152.4 734.1 L1153.6 739.3 L1154.9 743.5 L1156.2 743.5 L1157.5 746.3 L1158.9 748.2 L1160.2 750.1 L1161.5 752.0 L1162.8 752.2 L1164.1 752.5 L1165.4 752.7 L1166.8 752.9 L1168.1 753.1 L1169.4 753.4 L1170.7 753.6 L1171.9 754.4 L1173.2 755.2 L1174.4 756.0 L1175.6 756.8 L1176.8 757.6 L1178.0 758.4 L1179.3 759.2 L1180.5 760.0 L1181.7 761.6 L1183.0 763.3 L1184.2 760.8 L1185.4 766.6 L1186.7 766.7 L1187.9 766.7 L1189.2 766.8 L1190.5 766.8 L1191.7 771.1 L1193.0 766.9 L1194.3 767.0 L1195.5 767.1 L1196.8 767.1 L1198.1 767.2 L1199.3 767.2 L1200.6 767.3 L1201.9 767.3 L1203.1 767.4 L1204.4 767.5 L1205.7 767.5 L1206.9 767.6 L1208.2 767.6 L1209.5 767.7 L1210.7 767.7 L1212.0 767.8 L1213.3 767.9 L1214.5 767.9 L1215.8 768.0 L1217.1 768.0 L1218.3 768.1 L1219.6 768.1 L1220.9 768.2 L1222.1 772.4 L1223.4 768.3 L1224.7 768.4 L1225.9 768.4 L1227.2 768.5 L1228.5 768.5 L1229.7 768.6 L1231.0 768.6 L1232.3 768.7 L1233.5 768.8 L1234.8 768.8 L1236.1 773.1 L1237.3 768.9 L1238.6 769.0 L1239.9 764.8 L1241.1 764.9 L1242.4 769.2 L1243.7 769.2 L1244.9 769.3 L1246.2 769.3 L1247.5 769.4 L1248.7 769.4 L1250.0 769.5 L1251.3 765.3 L1252.5 769.5 L1253.8 769.6 L1255.0 773.8 L1256.3 769.6 L1257.6 765.4 L1258.8 769.6 L1260.1 769.7 L1261.3 769.7 L1262.6 769.7 L1263.9 773.9 L1265.1 769.7 L1266.4 769.8 L1267.6 769.8 L1268.9 769.8 L1270.2 769.8 L1271.4 769.8 L1272.7 769.9 L1273.9 769.9 L1275.2 769.9 L1276.5 769.9 L1277.7 769.9 L1279.0 769.9 L1280.2 770.0 L1281.5 770.0 L1282.8 770.0 L1284.0 774.2 L1285.3 770.0 L1286.5 770.1 L1287.8 770.1 L1289.1 770.1 L1290.3 770.1 L1291.6 774.3 L1292.8 770.2 L1294.1 766.0 L1295.4 770.2 L1296.6 770.2 L1297.9 774.4 L1299.1 770.3 L1300.4 770.3 L1301.6 770.3 L1302.9 770.3 L1304.2 770.3 L1305.4 770.4 L1306.7 770.4 L1307.9 770.4 L1309.2 770.4 L1310.5 770.4 L1311.7 770.5 L1313.0 770.5 L1314.2 770.5 L1315.5 770.5 L1316.8 770.5 L1318.0 770.6 L1319.3 770.6 L1320.5 770.6 L1321.8 770.6 L1323.1 770.6 L1324.3 770.6 L1325.6 770.7 L1326.8 770.7 L1328.1 770.7 L1329.4 770.7 L1330.6 770.7 L1331.9 775.0 L1333.1 770.8 L1334.4 770.8 L1335.7 770.8 L1336.9 770.8 L1338.2 770.9 L1339.4 770.9 L1340.7 770.9 L1342.0 770.9 L1343.2 770.9 L1344.5 771.0 L1345.7 771.0 L1347.0 771.0 L1368.2 771.0 L1369.5 775.2 L1370.8 771.0 L1373.2 771.0 L1374.5 775.2 L1375.8 771.0 L1377.0 771.0 L1378.2 775.2 L1379.5 766.8 L1380.8 771.0 L1387.0 771.0 L1388.3 777.0 L1389.6 771.0 L1390.8 771.0 L1392.1 766.8 L1393.3 771.0 L1399.5 771.0" stroke="#70AD47"/>
<path d="M734.0 779.5 L735.1 778.4 L736.3 777.2 L737.5 776.1 L738.6 775.0 L739.7 767.5 L740.7 760.0 L742.0 745.0 L743.2 730.0 L744.5 715.0 L745.7 700.0 L746.9 685.7 L748.1 671.4 L749.3 657.1 L750.6 642.9 L751.8 628.6 L753.0 614.3 L754.2 600.0 L755.4 590.0 L756.6 580.0 L757.8 570.0 L758.9 560.0 L760.1 550.0 L761.3 540.0 L762.2 530.0 L763.2 520.0 L764.4 511.6 L765.7 503.1 L766.9 494.7 L768.1 486.3 L769.4 477.8 L770.6 469.4 L771.9 461.4 L773.1 453.4 L774.4 445.4 L775.6 437.5 L776.9 429.5 L778.1 421.5 L779.4 413.5 L780.6 410.6 L781.9 407.6 L783.1 404.7 L784.3 401.8 L785.6 398.8 L786.8 395.9 L788.1 388.3 L789.3 380.8 L790.6 373.2 L791.8 365.6 L793.1 358.0 L794.3 350.5 L795.6 342.9 L796.8 339.2 L798.0 335.6 L799.2 331.9 L800.5 328.2 L801.7 324.6 L802.9 319.3 L806.7 319.3 L808.0 315.1 L809.3 310.9 L810.5 310.9 L811.8 306.7 L817.0 306.7 L818.3 302.5 L826.1 302.5 L827.4 298.3 L828.6 298.3 L829.9 294.1 L832.5 294.1 L833.8 289.9 L835.1 294.1 L837.6 294.1 L838.9 298.3 L840.2 294.1 L841.4 289.9 L842.7 294.1 L855.4 294.1 L856.7 298.3 L860.5 298.3 L861.8 302.5 L863.1 302.5 L864.3 298.3 L865.6 302.5 L866.8 298.3 L868.1 302.5 L871.9 302.5 L873.2 298.3 L875.8 298.3 L877.0 294.1 L878.3 294.1 L879.6 289.9 L880.9 294.1 L882.4 294.1 L883.8 298.3 L885.3 298.3 L886.6 302.5 L889.2 302.5 L890.5 306.7 L894.4 306.7 L895.7 310.9 L898.3 310.9 L899.5 315.1 L903.4 315.1 L904.6 323.5 L905.9 319.3 L907.2 319.3 L908.5 323.5 L916.3 323.5 L917.6 327.7 L918.9 327.7 L920.2 331.9 L921.5 327.7 L922.8 331.9 L929.4 331.9 L930.7 336.1 L933.3 336.1 L934.6 340.3 L938.6 340.3 L939.9 344.5 L941.2 344.5 L942.5 348.7 L947.7 348.7 L949.0 352.9 L950.3 352.9 L951.6 357.1 L954.1 357.1 L955.4 361.3 L959.0 361.3 L960.2 365.5 L962.7 365.5 L963.9 369.7 L965.1 369.7 L966.4 373.9 L968.8 373.9 L970.1 378.1 L973.8 378.1 L975.0 382.3 L979.9 382.3 L981.2 386.5 L983.6 386.5 L984.8 390.7 L986.0 394.9 L987.3 390.7 L988.5 394.9 L989.7 394.9 L990.9 399.1 L992.1 403.3 L994.6 403.3 L995.8 407.5 L998.2 407.5 L999.5 411.7 L1000.7 411.7 L1001.9 415.9 L1005.6 415.9 L1006.9 420.1 L1011.8 420.1 L1013.0 424.3 L1014.2 424.3 L1015.5 428.5 L1017.9 428.5 L1019.1 432.7 L1021.6 432.7 L1022.8 436.9 L1025.3 436.9 L1026.5 441.1 L1030.2 441.1 L1031.4 445.3 L1032.6 445.3 L1033.8 449.5 L1037.5 449.5 L1038.8 453.7 L1042.4 453.7 L1043.7 457.9 L1046.1 457.9 L1047.3 462.1 L1051.0 462.1 L1052.2 466.3 L1053.5 462.1 L1054.7 462.1 L1055.9 466.3 L1057.1 466.3 L1058.4 470.5 L1065.7 470.5 L1066.9 474.7 L1068.1 470.5 L1069.4 474.7 L1070.6 474.7 L1071.9 478.9 L1074.6 478.9 L1076.0 483.1 L1081.3 483.1 L1082.5 487.3 L1083.8 487.3 L1085.0 491.5 L1086.3 487.3 L1087.6 491.5 L1088.8 495.7 L1091.3 495.7 L1092.6 499.9 L1093.9 495.7 L1095.1 499.9 L1098.9 499.9 L1100.1 504.1 L1101.4 499.9 L1102.6 504.1 L1105.1 504.1 L1106.4 508.3 L1107.6 508.3 L1108.9 512.5 L1110.1 508.3 L1115.1 508.3 L1116.4 512.5 L1117.6 508.3 L1118.9 512.5 L1122.6 512.5 L1123.9 516.7 L1132.6 516.7 L1133.9 520.9 L1138.9 520.9 L1140.1 525.1 L1142.6 525.1 L1143.8 529.3 L1145.1 533.5 L1146.3 532.0 L1147.7 541.8 L1149.2 551.6 L1150.6 561.4 L1151.8 577.7 L1153.1 594.0 L1154.3 610.3 L1155.6 626.6 L1156.9 648.3 L1158.2 670.0 L1159.5 691.7 L1160.7 701.5 L1161.8 711.2 L1163.0 721.0 L1164.2 730.8 L1165.5 734.0 L1166.8 737.3 L1168.1 740.5 L1169.4 743.8 L1170.7 747.0 L1171.9 747.4 L1173.2 747.9 L1174.4 748.3 L1175.6 748.7 L1176.8 749.1 L1178.0 749.5 L1179.3 750.0 L1180.5 750.4 L1186.6 750.4 L1187.8 754.6 L1189.1 750.4 L1190.3 750.4 L1191.4 752.7 L1192.6 755.0 L1193.7 757.4 L1194.9 759.7 L1196.0 766.2 L1197.2 763.0 L1198.3 763.9 L1199.5 764.9 L1200.7 765.9 L1201.8 766.8 L1203.0 767.8 L1224.4 767.8 L1225.6 763.6 L1226.9 767.8 L1231.9 767.8 L1233.2 763.6 L1234.4 767.8 L1252.0 767.8 L1253.3 763.6 L1254.5 767.8 L1264.6 767.8 L1265.8 763.6 L1267.1 767.8 L1277.1 767.8 L1278.4 772.0 L1279.7 767.8 L1288.5 767.8 L1289.7 763.6 L1291.0 767.8 L1294.7 767.8 L1296.0 772.0 L1297.2 767.8 L1303.5 767.8 L1304.8 772.0 L1306.0 767.8 L1309.8 767.8 L1311.1 772.0 L1312.3 767.8 L1326.2 767.8 L1327.4 763.6 L1328.7 767.8 L1332.4 767.8 L1333.7 763.6 L1334.9 767.8 L1345.0 767.8" stroke="#255E91"/>
<path d="M798.0 779.5 L799.1 778.4 L800.3 777.2 L801.5 776.1 L802.6 775.0 L803.0 760.0 L804.4 740.0 L805.9 720.0 L807.3 700.0 L808.5 683.3 L809.7 666.7 L810.8 650.0 L812.0 633.3 L813.2 616.7 L814.4 600.0 L815.7 585.0 L817.0 570.0 L818.4 555.0 L819.7 540.0 L820.9 530.0 L822.0 520.0 L823.1 508.8 L824.2 497.6 L825.4 486.5 L826.5 475.3 L827.8 466.5 L829.0 457.6 L830.3 448.8 L831.5 440.0 L832.8 431.2 L834.0 422.3 L835.3 413.5 L836.6 409.3 L837.8 405.1 L839.1 400.9 L840.3 396.7 L841.6 392.5 L842.8 388.3 L844.1 384.1 L845.4 380.3 L846.6 376.5 L847.9 372.7 L849.1 369.0 L850.4 365.2 L851.6 361.4 L852.9 357.6 L854.1 354.7 L855.4 351.7 L856.6 348.8 L857.8 345.9 L859.1 342.9 L860.3 340.3 L862.7 340.3 L863.8 336.1 L865.0 331.9 L866.2 331.9 L867.4 327.7 L868.5 331.9 L869.7 331.9 L870.8 336.1 L875.4 336.1 L876.5 331.9 L881.4 331.9 L882.6 336.1 L883.9 336.1 L885.1 331.9 L904.1 331.9 L905.4 336.1 L906.6 331.9 L915.6 331.9 L916.8 336.1 L918.1 336.1 L919.3 340.3 L923.2 340.3 L924.5 344.5 L927.2 344.5 L928.5 348.7 L929.8 344.5 L931.1 348.7 L935.0 348.7 L936.3 344.5 L937.6 348.7 L940.2 348.7 L941.5 352.9 L942.8 348.7 L944.1 352.9 L946.6 352.9 L947.9 357.1 L949.1 357.1 L950.4 361.3 L951.6 361.3 L952.9 365.5 L955.4 365.5 L956.6 369.7 L957.8 365.5 L959.0 369.7 L961.5 369.7 L962.7 373.9 L963.9 373.9 L965.1 378.1 L968.8 378.1 L970.1 382.3 L972.5 382.3 L973.8 386.5 L976.2 386.5 L977.5 390.7 L978.7 386.5 L979.9 390.7 L981.2 394.9 L986.0 394.9 L987.3 399.1 L989.7 399.1 L990.9 403.3 L992.1 403.3 L993.4 407.5 L994.6 407.5 L995.8 411.7 L997.0 407.5 L998.2 415.9 L999.5 411.7 L1000.7 415.9 L1001.9 411.7 L1003.2 415.9 L1004.4 420.1 L1005.6 415.9 L1006.9 424.3 L1008.1 420.1 L1009.3 424.3 L1011.8 424.3 L1013.0 428.5 L1015.5 428.5 L1016.7 432.7 L1020.4 432.7 L1021.6 436.9 L1025.3 436.9 L1026.5 441.1 L1030.2 441.1 L1031.4 445.3 L1033.8 445.3 L1035.1 449.5 L1037.5 449.5 L1038.8 453.7 L1041.2 453.7 L1042.4 457.9 L1048.6 457.9 L1049.8 462.1 L1052.2 462.1 L1053.5 466.3 L1057.1 466.3 L1058.4 470.5 L1059.6 466.3 L1060.8 470.5 L1063.2 470.5 L1064.5 474.7 L1070.6 474.7 L1071.9 478.9 L1073.3 478.9 L1074.6 483.1 L1078.7 483.1 L1080.0 487.3 L1081.3 483.1 L1082.5 483.1 L1083.8 487.3 L1085.0 487.3 L1086.3 491.5 L1088.8 491.5 L1090.1 495.7 L1092.6 495.7 L1093.9 499.9 L1098.9 499.9 L1100.1 504.1 L1102.6 504.1 L1103.9 499.9 L1105.1 504.1 L1106.4 508.3 L1107.6 508.3 L1108.9 504.1 L1110.1 508.3 L1112.6 508.3 L1113.9 512.5 L1115.1 508.3 L1116.4 508.3 L1117.6 512.5 L1120.1 512.5 L1121.4 516.7 L1122.6 512.5 L1123.9 516.7 L1131.4 516.7 L1132.6 520.9 L1138.9 520.9 L1140.1 525.1 L1141.4 520.9 L1142.6 520.9 L1143.9 525.1 L1147.5 525.1 L1148.8 529.3 L1150.0 529.3 L1151.2 528.9 L1152.5 534.6 L1153.9 540.3 L1155.2 546.0 L1156.6 551.7 L1157.9 566.4 L1159.2 581.0 L1160.5 595.6 L1161.8 610.3 L1163.3 632.0 L1164.7 653.7 L1166.2 675.4 L1167.3 686.8 L1168.5 698.2 L1169.6 709.6 L1170.7 721.0 L1172.0 725.6 L1173.3 730.1 L1174.7 734.7 L1176.0 739.2 L1177.3 747.7 L1178.6 743.5 L1179.9 745.8 L1181.2 746.7 L1182.5 747.7 L1183.8 744.5 L1185.1 748.7 L1186.4 748.7 L1187.7 744.5 L1189.0 744.5 L1190.3 748.7 L1196.8 748.7 L1198.1 751.6 L1199.4 754.6 L1200.7 757.5 L1202.0 760.5 L1203.3 763.4 L1204.6 764.5 L1206.0 765.6 L1207.3 766.8 L1208.7 767.9 L1210.0 769.0 L1211.3 765.3 L1212.7 770.1 L1214.0 770.6 L1227.9 770.6 L1229.1 774.8 L1230.4 770.6 L1231.7 774.8 L1232.9 770.6 L1263.2 770.6 L1264.5 774.8 L1265.7 770.6 L1289.7 770.6 L1291.0 766.4 L1292.2 766.4 L1293.5 770.6 L1294.7 774.8 L1296.0 770.6 L1304.8 770.6 L1306.1 774.8 L1307.4 770.6 L1309.9 770.6 L1311.1 766.4 L1312.4 770.6 L1349.0 770.6" stroke="#9E480E"/>
<path d="M183.6 777.7 L187.2 777.7" stroke="#7F7F7F" stroke-width="4.6"/>
<path d="M198.5 777.7 L203.0 777.7" stroke="#BF9000" stroke-width="4.6"/>
<path d="M203.0 777.7 L208.0 777.7" stroke="#ED7D31" stroke-width="4.6"/>
<path d="M208.0 777.7 L217.0 777.7" stroke="#7F7F7F" stroke-width="4.6"/>
<path d="M217.0 777.7 L237.0 777.7" stroke="#ED7D31" stroke-width="4.6"/>
<path d="M237.0 777.7 L241.0 777.7" stroke="#7F7F7F" stroke-width="4.6"/>
<path d="M243.5 777.7 L247.5 777.7" stroke="#7F7F7F" stroke-width="4.6"/>
<path d="M247.5 777.7 L252.0 777.7" stroke="#ED7D31" stroke-width="4.6"/>
<path d="M252.0 777.7 L257.5 777.7" stroke="#BF9000" stroke-width="4.6"/>
<path d="M257.5 777.7 L270.0 777.7" stroke="#ED7D31" stroke-width="4.6"/>
<path d="M270.0 777.7 L275.5 777.7" stroke="#BF9000" stroke-width="4.6"/>
<path d="M280.0 777.7 L290.0 777.7" stroke="#ED7D31" stroke-width="4.6"/>
<path d="M290.0 777.7 L300.6 777.7" stroke="#BF9000" stroke-width="4.6"/>
<path d="M301.5 777.7 L304.5 777.7" stroke="#9E480E" stroke-width="4.6"/>
<path d="M305.5 777.7 L308.3 777.7" stroke="#BF9000" stroke-width="4.6"/>
<path d="M312.5 777.7 L335.0 777.7" stroke="#ED7D31" stroke-width="4.6"/>
<path d="M335.0 777.7 L338.0 777.7" stroke="#BF9000" stroke-width="4.6"/>
<path d="M338.0 777.7 L343.0 777.7" stroke="#ED7D31" stroke-width="4.6"/>
<path d="M343.0 777.7 L347.0 777.7" stroke="#BF9000" stroke-width="4.6"/>
<path d="M347.0 777.7 L352.0 777.7" stroke="#ED7D31" stroke-width="4.6"/>
<path d="M352.0 777.7 L356.0 777.7" stroke="#BF9000" stroke-width="4.6"/>
<path d="M356.0 777.7 L373.3 777.7" stroke="#ED7D31" stroke-width="4.6"/>
<path d="M376.5 777.7 L380.2 777.7" stroke="#ED7D31" stroke-width="4.6"/>
<path d="M184.0 781.3 L861.0 781.3 L862.3 779.5 L863.7 777.8 L865.0 776.0 L866.8 760.0 L868.0 745.0 L869.3 730.0 L870.5 715.0 L871.8 700.0 L873.1 687.5 L874.4 675.0 L875.8 662.5 L877.1 650.0 L878.4 637.5 L879.8 625.0 L881.1 612.5 L882.4 600.0 L883.7 588.0 L884.9 576.0 L886.2 564.0 L887.4 552.0 L888.7 540.0 L889.7 520.0 L890.9 511.6 L892.1 503.1 L893.4 494.7 L894.6 486.3 L895.8 477.8 L897.0 469.4 L898.3 463.9 L899.5 458.5 L900.8 453.0 L902.1 447.6 L903.4 442.1 L904.6 436.7 L905.9 431.2 L907.2 427.4 L908.4 423.6 L909.7 419.8 L910.9 416.1 L912.2 412.3 L913.4 408.5 L914.7 404.7 L916.0 402.0 L917.2 399.2 L918.5 396.5 L919.7 393.8 L921.0 391.1 L922.2 388.3 L923.5 386.5 L924.8 382.3 L928.6 382.3 L929.9 378.1 L931.1 373.9 L935.0 373.9 L936.3 369.7 L938.9 369.7 L940.2 365.5 L942.8 365.5 L944.1 361.3 L950.4 361.3 L951.6 357.1 L956.7 357.1 L957.9 361.3 L959.2 357.1 L960.5 357.1 L961.7 361.3 L964.3 361.3 L965.5 357.1 L968.0 357.1 L969.3 361.3 L970.6 357.1 L971.8 361.3 L973.1 361.3 L974.4 357.1 L980.6 357.1 L981.9 361.3 L984.3 361.3 L985.5 357.1 L986.8 361.3 L988.0 357.1 L989.2 361.3 L992.9 361.3 L994.1 365.5 L995.3 361.3 L996.5 365.5 L998.8 365.5 L1000.0 369.7 L1001.2 365.5 L1002.5 369.7 L1003.8 373.9 L1006.2 373.9 L1007.5 369.7 L1008.8 373.9 L1012.5 373.9 L1013.8 378.1 L1015.0 378.1 L1016.2 382.3 L1017.5 378.1 L1018.8 382.3 L1021.3 382.3 L1022.5 386.5 L1023.8 382.3 L1025.1 386.5 L1027.6 386.5 L1028.9 390.7 L1034.0 390.7 L1035.3 394.9 L1036.7 394.9 L1038.0 399.1 L1039.3 399.1 L1040.7 403.3 L1042.0 403.3 L1043.3 407.5 L1044.7 411.7 L1046.0 407.5 L1047.3 411.7 L1050.0 411.7 L1051.2 415.9 L1055.0 415.9 L1056.2 420.1 L1060.0 420.1 L1061.3 424.3 L1062.7 424.3 L1064.0 428.5 L1065.3 428.5 L1066.7 432.7 L1069.3 432.7 L1070.7 436.9 L1072.0 436.9 L1073.3 441.1 L1077.2 441.1 L1078.5 445.3 L1081.0 445.3 L1082.2 449.5 L1083.5 445.3 L1084.8 449.5 L1087.3 449.5 L1088.7 453.7 L1091.3 453.7 L1092.7 457.9 L1094.0 457.9 L1095.3 453.7 L1096.7 453.7 L1098.0 457.9 L1099.3 457.9 L1100.7 453.7 L1102.0 457.9 L1103.2 453.7 L1104.4 457.9 L1105.6 462.1 L1108.0 462.1 L1109.2 466.3 L1110.4 466.3 L1111.6 470.5 L1117.6 470.5 L1118.8 474.7 L1121.3 474.7 L1122.7 478.9 L1125.3 478.9 L1126.7 483.1 L1133.8 483.1 L1135.0 483.0 L1136.5 487.5 L1138.0 492.0 L1139.5 495.0 L1141.0 498.0 L1142.0 507.0 L1143.0 516.0 L1144.0 530.0 L1145.2 553.9 L1146.3 577.7 L1147.4 599.4 L1148.5 621.2 L1149.6 642.9 L1150.7 659.2 L1151.7 675.4 L1152.8 691.7 L1154.0 702.3 L1155.2 712.9 L1156.5 723.4 L1157.7 734.0 L1159.0 736.9 L1160.3 739.9 L1161.6 742.8 L1162.9 745.8 L1164.2 748.7 L1165.4 744.7 L1166.7 749.1 L1167.9 749.3 L1169.1 749.5 L1170.3 749.8 L1171.5 750.0 L1172.8 750.2 L1174.0 750.4 L1175.3 751.1 L1176.5 756.0 L1177.8 752.6 L1179.1 753.3 L1180.3 754.0 L1181.6 754.7 L1182.9 751.3 L1184.1 756.2 L1185.4 756.9 L1186.6 758.9 L1187.8 761.0 L1189.1 763.0 L1190.3 765.0 L1191.7 770.2 L1193.0 767.0 L1194.3 768.0 L1195.7 769.0 L1197.1 774.2 L1198.4 771.0 L1199.7 771.0 L1200.9 771.0 L1202.2 771.0 L1203.4 771.0 L1204.7 771.0 L1206.0 771.0 L1207.2 771.1 L1208.5 771.1 L1209.7 771.1 L1211.0 771.1 L1212.3 771.1 L1213.5 771.1 L1214.8 771.1 L1216.0 771.1 L1217.3 771.1 L1218.6 771.1 L1219.8 771.1 L1221.1 771.1 L1222.3 771.1 L1223.6 771.2 L1224.8 771.2 L1226.1 771.2 L1227.4 771.2 L1228.6 775.4 L1229.9 771.2 L1231.1 771.2 L1232.4 767.0 L1233.7 771.2 L1234.9 771.2 L1236.2 775.4 L1237.4 771.2 L1238.7 771.2 L1240.0 771.3 L1241.2 771.3 L1242.5 775.5 L1243.7 771.3 L1245.0 771.3 L1246.3 771.3 L1247.5 771.3 L1248.8 771.3 L1250.0 771.3 L1251.3 771.3 L1252.6 771.3 L1253.8 771.3 L1255.1 771.4 L1256.3 775.6 L1257.6 771.4 L1258.8 771.4 L1260.1 771.4 L1261.4 771.4 L1262.6 767.2 L1263.9 771.4 L1265.1 771.4 L1266.4 771.4 L1267.7 771.4 L1268.9 771.4 L1270.2 771.4 L1271.4 771.5 L1272.7 771.5 L1274.0 771.5 L1275.2 771.5 L1276.5 771.5 L1277.7 771.5 L1279.0 771.5 L1280.3 775.7 L1281.5 775.7 L1282.8 771.5 L1286.5 771.5 L1287.8 775.7 L1290.3 775.7 L1291.6 771.5 L1294.1 771.5 L1295.3 775.7 L1296.6 771.5 L1297.8 775.7 L1299.1 771.5 L1304.1 771.5 L1305.4 775.7 L1314.2 775.7 L1315.4 771.5 L1316.7 775.7 L1317.9 775.7 L1319.2 771.5 L1320.5 775.7 L1321.7 771.5 L1323.0 775.7 L1324.2 771.5 L1325.5 775.7 L1326.7 775.7 L1328.0 771.5" stroke="#636363"/>
</g>
<path d="M694.6 779 L694.6 777.3 L696 777.3 L696 779" fill="none" stroke="#595959" stroke-width="2" stroke-linejoin="round"/>
<line x1="184.3" y1="780.5" x2="864" y2="780.5" stroke="#595959" stroke-width="1.9"/>
<path d="M183.2 771.8 L183.2 242.1 L1639.1 242.1 L1639.1 781.8" fill="none" stroke="#000" stroke-width="2.1" stroke-linejoin="round"/>
<text x="166.5" y="789.0" font-size="23" text-anchor="end" font-family="Liberation Sans, sans-serif" fill="#404040">0</text>
<text x="166.5" y="735.2" font-size="23" text-anchor="end" font-family="Liberation Sans, sans-serif" fill="#404040">1</text>
<text x="166.5" y="681.4" font-size="23" text-anchor="end" font-family="Liberation Sans, sans-serif" fill="#404040">2</text>
<text x="166.5" y="627.5" font-size="23" text-anchor="end" font-family="Liberation Sans, sans-serif" fill="#404040">3</text>
<text x="166.5" y="573.7" font-size="23" text-anchor="end" font-family="Liberation Sans, sans-serif" fill="#404040">4</text>
<text x="166.5" y="519.9" font-size="23" text-anchor="end" font-family="Liberation Sans, sans-serif" fill="#404040">5</text>
<text x="166.5" y="466.1" font-size="23" text-anchor="end" font-family="Liberation Sans, sans-serif" fill="#404040">6</text>
<text x="166.5" y="412.3" font-size="23" text-anchor="end" font-family="Liberation Sans, sans-serif" fill="#404040">7</text>
<text x="166.5" y="358.4" font-size="23" text-anchor="end" font-family="Liberation Sans, sans-serif" fill="#404040">8</text>
<text x="166.5" y="304.6" font-size="23" text-anchor="end" font-family="Liberation Sans, sans-serif" fill="#404040">9</text>
<text x="166.5" y="250.8" font-size="23" text-anchor="end" font-family="Liberation Sans, sans-serif" fill="#404040">10</text>
<text x="182.8" y="822.2" font-size="23" text-anchor="middle" font-family="Liberation Sans, sans-serif" fill="#404040">−20</text>
<text x="309.5" y="822.2" font-size="23" text-anchor="middle" font-family="Liberation Sans, sans-serif" fill="#404040">30</text>
<text x="435.8" y="822.2" font-size="23" text-anchor="middle" font-family="Liberation Sans, sans-serif" fill="#404040">80</text>
<text x="562.1" y="822.2" font-size="23" text-anchor="middle" font-family="Liberation Sans, sans-serif" fill="#404040">130</text>
<text x="688.4" y="822.2" font-size="23" text-anchor="middle" font-family="Liberation Sans, sans-serif" fill="#404040">180</text>
<text x="814.7" y="822.2" font-size="23" text-anchor="middle" font-family="Liberation Sans, sans-serif" fill="#404040">230</text>
<text x="940.9" y="822.2" font-size="23" text-anchor="middle" font-family="Liberation Sans, sans-serif" fill="#404040">280</text>
<text x="1067.2" y="822.2" font-size="23" text-anchor="middle" font-family="Liberation Sans, sans-serif" fill="#404040">330</text>
<text x="1193.5" y="822.2" font-size="23" text-anchor="middle" font-family="Liberation Sans, sans-serif" fill="#404040">380</text>
<text x="1319.8" y="822.2" font-size="23" text-anchor="middle" font-family="Liberation Sans, sans-serif" fill="#404040">430</text>
<text x="1446.1" y="822.2" font-size="23" text-anchor="middle" font-family="Liberation Sans, sans-serif" fill="#404040">480</text>
<text x="1572.3" y="822.2" font-size="23" text-anchor="middle" font-family="Liberation Sans, sans-serif" fill="#404040">530</text>
<text x="885" y="185.3" font-size="23" textLength="113.5" lengthAdjust="spacing" font-family="Liberation Sans, sans-serif" fill="#404040">120−500ns</text>
<text x="926.0" y="865.6" font-size="23" textLength="8.4" lengthAdjust="spacingAndGlyphs" font-family="Liberation Sans, sans-serif" fill="#404040">t</text>
<text x="950.3" y="865.6" font-size="23" textLength="13.8" lengthAdjust="spacingAndGlyphs" font-family="Liberation Sans, sans-serif" fill="#404040">n</text>
<text x="964.3" y="865.6" font-size="23" textLength="11.8" lengthAdjust="spacingAndGlyphs" font-family="Liberation Sans, sans-serif" fill="#404040">s</text>
<g transform="translate(119.9 481) rotate(-90)">
<text x="-1.4" y="0" font-size="25" textLength="11.7" lengthAdjust="spacingAndGlyphs" font-family="Liberation Sans, sans-serif" fill="#404040">P</text>
<text x="24.8" y="0" font-size="25" textLength="12.7" lengthAdjust="spacingAndGlyphs" font-family="Liberation Sans, sans-serif" fill="#404040">K</text>
<text x="38.2" y="0" font-size="25" textLength="12.4" lengthAdjust="spacingAndGlyphs" font-family="Liberation Sans, sans-serif" fill="#404040">W</text>
</g>
<line x1="938.4" y1="867.4" x2="950.3" y2="848.4" stroke="#404040" stroke-width="1.8"/>
<line x1="120.3" y1="467.9" x2="101.4" y2="457.1" stroke="#404040" stroke-width="1.8"/>
<line x1="1667.2" y1="297.0" x2="1703.5" y2="297.0" stroke="#C55A11" stroke-width="4" stroke-linecap="round"/>
<text x="1712.2" y="305.3" font-size="23" textLength="62.5" lengthAdjust="spacing" font-family="Liberation Sans, sans-serif" fill="#404040">500ns</text>
<line x1="1667.2" y1="336.2" x2="1703.5" y2="336.2" stroke="#7F7F7F" stroke-width="4" stroke-linecap="round"/>
<text x="1712.2" y="344.5" font-size="23" textLength="62.5" lengthAdjust="spacing" font-family="Liberation Sans, sans-serif" fill="#404040">450ns</text>
<line x1="1667.2" y1="375.4" x2="1703.5" y2="375.4" stroke="#BF9000" stroke-width="4" stroke-linecap="round"/>
<text x="1712.2" y="383.7" font-size="23" textLength="62.5" lengthAdjust="spacing" font-family="Liberation Sans, sans-serif" fill="#404040">400ns</text>
<line x1="1667.2" y1="414.6" x2="1703.5" y2="414.6" stroke="#ED7D31" stroke-width="4" stroke-linecap="round"/>
<text x="1712.2" y="422.9" font-size="23" textLength="62.5" lengthAdjust="spacing" font-family="Liberation Sans, sans-serif" fill="#404040">350ns</text>
<line x1="1667.2" y1="453.8" x2="1703.5" y2="453.8" stroke="#A5A5A5" stroke-width="4" stroke-linecap="round"/>
<text x="1712.2" y="462.1" font-size="23" textLength="62.5" lengthAdjust="spacing" font-family="Liberation Sans, sans-serif" fill="#404040">300ns</text>
<line x1="1667.2" y1="493.0" x2="1703.5" y2="493.0" stroke="#FFC000" stroke-width="4" stroke-linecap="round"/>
<text x="1712.2" y="501.3" font-size="23" textLength="62.5" lengthAdjust="spacing" font-family="Liberation Sans, sans-serif" fill="#404040">250ns</text>
<line x1="1667.2" y1="532.2" x2="1703.5" y2="532.2" stroke="#4472C4" stroke-width="4" stroke-linecap="round"/>
<text x="1712.2" y="540.5" font-size="23" textLength="62.5" lengthAdjust="spacing" font-family="Liberation Sans, sans-serif" fill="#404040">220ns</text>
<line x1="1667.2" y1="571.4" x2="1703.5" y2="571.4" stroke="#70AD47" stroke-width="4" stroke-linecap="round"/>
<text x="1712.2" y="579.7" font-size="23" textLength="62.5" lengthAdjust="spacing" font-family="Liberation Sans, sans-serif" fill="#404040">200ns</text>
<line x1="1667.2" y1="610.6" x2="1703.5" y2="610.6" stroke="#255E91" stroke-width="4" stroke-linecap="round"/>
<text x="1712.2" y="618.9" font-size="23" textLength="62.5" lengthAdjust="spacing" font-family="Liberation Sans, sans-serif" fill="#404040">180ns</text>
<line x1="1667.2" y1="649.8" x2="1703.5" y2="649.8" stroke="#9E480E" stroke-width="4" stroke-linecap="round"/>
<text x="1712.2" y="658.1" font-size="23" textLength="62.5" lengthAdjust="spacing" font-family="Liberation Sans, sans-serif" fill="#404040">150ns</text>
<line x1="1667.2" y1="689.0" x2="1703.5" y2="689.0" stroke="#636363" stroke-width="4" stroke-linecap="round"/>
<text x="1712.2" y="697.3" font-size="23" textLength="62.5" lengthAdjust="spacing" font-family="Liberation Sans, sans-serif" fill="#404040">120ns</text>
</svg>
</body></html>
